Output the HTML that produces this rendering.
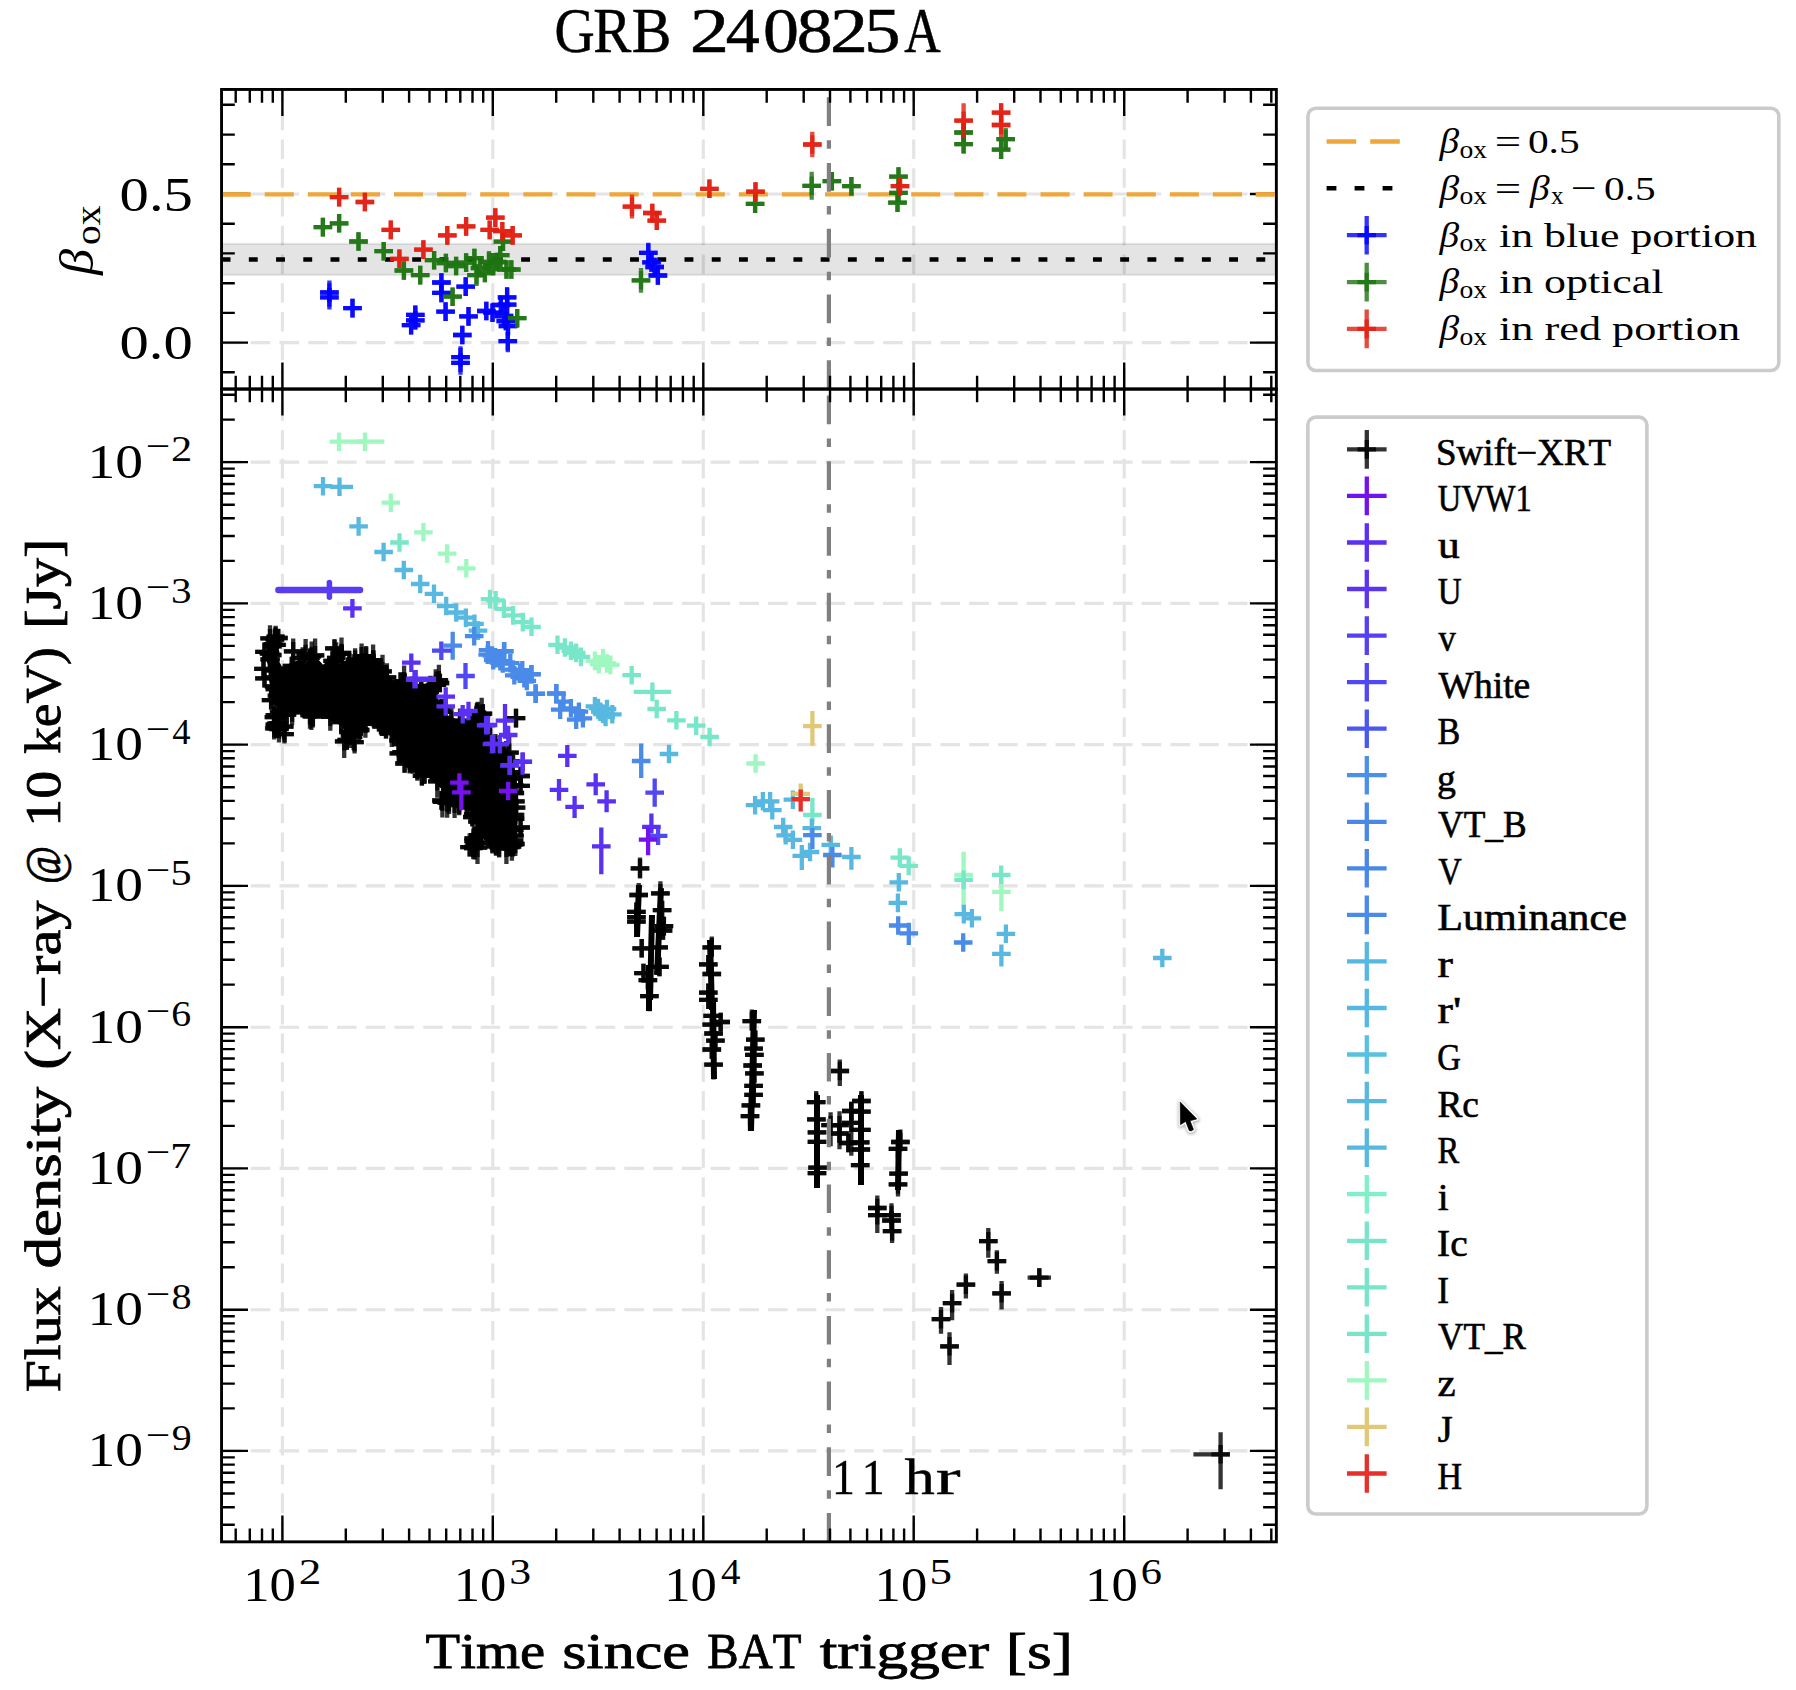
<!DOCTYPE html><html><head><meta charset="utf-8"><style>html,body{margin:0;padding:0;background:#fff;overflow:hidden}svg{display:block}</style></head><body><svg xmlns="http://www.w3.org/2000/svg" width="1796" height="1690" viewBox="0 0 1796 1690">
<rect width="100%" height="100%" fill="#ffffff"/>
<defs><clipPath id="ct"><rect x="221.55" y="89.45" width="1054.75" height="299.59000000000003"/></clipPath><clipPath id="cb"><rect x="221.55" y="389.04" width="1054.75" height="1152.76"/></clipPath></defs>
<path d="M282.4 389V89.5" stroke="#e4e4e4" stroke-width="3.1" stroke-dasharray="19.6 9.14" fill="none"/>
<path d="M282.4 1541.8V389" stroke="#e4e4e4" stroke-width="3.1" stroke-dasharray="19.6 9.14" fill="none"/>
<path d="M492.8 389V89.5" stroke="#e4e4e4" stroke-width="3.1" stroke-dasharray="19.6 9.14" fill="none"/>
<path d="M492.8 1541.8V389" stroke="#e4e4e4" stroke-width="3.1" stroke-dasharray="19.6 9.14" fill="none"/>
<path d="M703.3 389V89.5" stroke="#e4e4e4" stroke-width="3.1" stroke-dasharray="19.6 9.14" fill="none"/>
<path d="M703.3 1541.8V389" stroke="#e4e4e4" stroke-width="3.1" stroke-dasharray="19.6 9.14" fill="none"/>
<path d="M913.7 389V89.5" stroke="#e4e4e4" stroke-width="3.1" stroke-dasharray="19.6 9.14" fill="none"/>
<path d="M913.7 1541.8V389" stroke="#e4e4e4" stroke-width="3.1" stroke-dasharray="19.6 9.14" fill="none"/>
<path d="M1124.2 389V89.5" stroke="#e4e4e4" stroke-width="3.1" stroke-dasharray="19.6 9.14" fill="none"/>
<path d="M1124.2 1541.8V389" stroke="#e4e4e4" stroke-width="3.1" stroke-dasharray="19.6 9.14" fill="none"/>
<path d="M222 342.6H1276.3" stroke="#e4e4e4" stroke-width="3.1" stroke-dasharray="19.6 9.14" fill="none"/>
<path d="M222 194H1276.3" stroke="#e4e4e4" stroke-width="3.1" stroke-dasharray="19.6 9.14" fill="none"/>
<path d="M222 1450.9H1276.3" stroke="#e4e4e4" stroke-width="3.1" stroke-dasharray="19.6 9.14" fill="none"/>
<path d="M222 1309.7H1276.3" stroke="#e4e4e4" stroke-width="3.1" stroke-dasharray="19.6 9.14" fill="none"/>
<path d="M222 1168.4H1276.3" stroke="#e4e4e4" stroke-width="3.1" stroke-dasharray="19.6 9.14" fill="none"/>
<path d="M222 1027.2H1276.3" stroke="#e4e4e4" stroke-width="3.1" stroke-dasharray="19.6 9.14" fill="none"/>
<path d="M222 885.9H1276.3" stroke="#e4e4e4" stroke-width="3.1" stroke-dasharray="19.6 9.14" fill="none"/>
<path d="M222 744.6H1276.3" stroke="#e4e4e4" stroke-width="3.1" stroke-dasharray="19.6 9.14" fill="none"/>
<path d="M222 603.4H1276.3" stroke="#e4e4e4" stroke-width="3.1" stroke-dasharray="19.6 9.14" fill="none"/>
<path d="M222 462.1H1276.3" stroke="#e4e4e4" stroke-width="3.1" stroke-dasharray="19.6 9.14" fill="none"/>
<g clip-path="url(#ct)">
<rect x="216.55" y="243.85" width="1064.75" height="31.15" fill="#000" fill-opacity="0.105" stroke="#000" stroke-opacity="0.08" stroke-width="2.3"/>
<path d="M221.6 259.45H1276.3" stroke="#000" stroke-width="4.5" stroke-dasharray="8.9 18.33"/>
<path d="M221.6 194.4H1276.3" stroke="#f0a73a" stroke-width="4.4" stroke-dasharray="29.1 14"/>
<path d="M320.1 292.5H338.7M329.4 280.5V301.8" stroke="#0000ff" stroke-width="4.3" stroke-opacity="0.8" stroke-linecap="butt"/>
<path d="M320.1 292.5H338.7M329.4 283.2V301.8" stroke="#0000ff" stroke-width="4.3" stroke-opacity="0.8"/>
<path d="M320.1 297.4H338.7M329.4 288.1V309.4" stroke="#0000ff" stroke-width="4.3" stroke-opacity="0.8" stroke-linecap="butt"/>
<path d="M320.1 297.4H338.7M329.4 288.1V306.7" stroke="#0000ff" stroke-width="4.3" stroke-opacity="0.8"/>
<path d="M343.2 308.1H361.8M352.5 298.8V317.4" stroke="#0000ff" stroke-width="4.3" stroke-opacity="0.8" stroke-linecap="butt"/>
<path d="M343.2 308.1H361.8M352.5 298.8V317.4" stroke="#0000ff" stroke-width="4.3" stroke-opacity="0.8"/>
<path d="M406 314.8H424.6M415.3 305.5V324.1" stroke="#0000ff" stroke-width="4.3" stroke-opacity="0.8" stroke-linecap="butt"/>
<path d="M406 314.8H424.6M415.3 305.5V324.1" stroke="#0000ff" stroke-width="4.3" stroke-opacity="0.8"/>
<path d="M406 320.3H424.6M415.3 311V329.6" stroke="#0000ff" stroke-width="4.3" stroke-opacity="0.8" stroke-linecap="butt"/>
<path d="M406 320.3H424.6M415.3 311V329.6" stroke="#0000ff" stroke-width="4.3" stroke-opacity="0.8"/>
<path d="M401.8 325.2H420.4M411.1 315.9V334.5" stroke="#0000ff" stroke-width="4.3" stroke-opacity="0.8" stroke-linecap="butt"/>
<path d="M401.8 325.2H420.4M411.1 315.9V334.5" stroke="#0000ff" stroke-width="4.3" stroke-opacity="0.8"/>
<path d="M432.1 282.5H450.7M441.4 273.2V296.5" stroke="#0000ff" stroke-width="4.3" stroke-opacity="0.8" stroke-linecap="butt"/>
<path d="M432.1 282.5H450.7M441.4 273.2V291.8" stroke="#0000ff" stroke-width="4.3" stroke-opacity="0.8"/>
<path d="M432.1 292.9H450.7M441.4 283.6V302.2" stroke="#0000ff" stroke-width="4.3" stroke-opacity="0.8" stroke-linecap="butt"/>
<path d="M432.1 292.9H450.7M441.4 283.6V302.2" stroke="#0000ff" stroke-width="4.3" stroke-opacity="0.8"/>
<path d="M436.3 311.6H454.9M445.6 302.3V320.9" stroke="#0000ff" stroke-width="4.3" stroke-opacity="0.8" stroke-linecap="butt"/>
<path d="M436.3 311.6H454.9M445.6 302.3V320.9" stroke="#0000ff" stroke-width="4.3" stroke-opacity="0.8"/>
<path d="M456.4 286.6H475M465.7 277.3V295.9" stroke="#0000ff" stroke-width="4.3" stroke-opacity="0.8" stroke-linecap="butt"/>
<path d="M456.4 286.6H475M465.7 277.3V295.9" stroke="#0000ff" stroke-width="4.3" stroke-opacity="0.8"/>
<path d="M459.2 316.4H477.8M468.5 307.1V325.7" stroke="#0000ff" stroke-width="4.3" stroke-opacity="0.8" stroke-linecap="butt"/>
<path d="M459.2 316.4H477.8M468.5 307.1V325.7" stroke="#0000ff" stroke-width="4.3" stroke-opacity="0.8"/>
<path d="M453 335H471.6M462.3 325.7V344.3" stroke="#0000ff" stroke-width="4.3" stroke-opacity="0.8" stroke-linecap="butt"/>
<path d="M453 335H471.6M462.3 325.7V344.3" stroke="#0000ff" stroke-width="4.3" stroke-opacity="0.8"/>
<path d="M451.2 357.2H469.8M460.5 346.2V366.5" stroke="#0000ff" stroke-width="4.3" stroke-opacity="0.8" stroke-linecap="butt"/>
<path d="M451.2 357.2H469.8M460.5 347.9V366.5" stroke="#0000ff" stroke-width="4.3" stroke-opacity="0.8"/>
<path d="M451.2 362.8H469.8M460.5 353.5V374.8" stroke="#0000ff" stroke-width="4.3" stroke-opacity="0.8" stroke-linecap="butt"/>
<path d="M451.2 362.8H469.8M460.5 353.5V372.1" stroke="#0000ff" stroke-width="4.3" stroke-opacity="0.8"/>
<path d="M477 311H495.6M486.3 301.7V320.3" stroke="#0000ff" stroke-width="4.3" stroke-opacity="0.8" stroke-linecap="butt"/>
<path d="M477 311H495.6M486.3 301.7V320.3" stroke="#0000ff" stroke-width="4.3" stroke-opacity="0.8"/>
<path d="M483.2 312.7H501.8M492.5 303.4V322" stroke="#0000ff" stroke-width="4.3" stroke-opacity="0.8" stroke-linecap="butt"/>
<path d="M483.2 312.7H501.8M492.5 303.4V322" stroke="#0000ff" stroke-width="4.3" stroke-opacity="0.8"/>
<path d="M491.6 305H510.2M500.9 295.7V314.3" stroke="#0000ff" stroke-width="4.3" stroke-opacity="0.8" stroke-linecap="butt"/>
<path d="M491.6 305H510.2M500.9 295.7V314.3" stroke="#0000ff" stroke-width="4.3" stroke-opacity="0.8"/>
<path d="M497.8 297.4H516.4M507.1 286.9V306.7" stroke="#0000ff" stroke-width="4.3" stroke-opacity="0.8" stroke-linecap="butt"/>
<path d="M497.8 297.4H516.4M507.1 288.1V306.7" stroke="#0000ff" stroke-width="4.3" stroke-opacity="0.8"/>
<path d="M497.8 304.7H516.4M507.1 295.4V314" stroke="#0000ff" stroke-width="4.3" stroke-opacity="0.8" stroke-linecap="butt"/>
<path d="M497.8 304.7H516.4M507.1 295.4V314" stroke="#0000ff" stroke-width="4.3" stroke-opacity="0.8"/>
<path d="M496.5 321H515.1M505.8 311.7V330.3" stroke="#0000ff" stroke-width="4.3" stroke-opacity="0.8" stroke-linecap="butt"/>
<path d="M496.5 321H515.1M505.8 311.7V330.3" stroke="#0000ff" stroke-width="4.3" stroke-opacity="0.8"/>
<path d="M498.5 341.2H517.1M507.8 331.9V352.2" stroke="#0000ff" stroke-width="4.3" stroke-opacity="0.8" stroke-linecap="butt"/>
<path d="M498.5 341.2H517.1M507.8 331.9V350.5" stroke="#0000ff" stroke-width="4.3" stroke-opacity="0.8"/>
<path d="M494.7 316H513.3M504 306.7V325.3" stroke="#0000ff" stroke-width="4.3" stroke-opacity="0.8" stroke-linecap="butt"/>
<path d="M494.7 316H513.3M504 306.7V325.3" stroke="#0000ff" stroke-width="4.3" stroke-opacity="0.8"/>
<path d="M498.7 326H517.3M508 316.7V335.3" stroke="#0000ff" stroke-width="4.3" stroke-opacity="0.8" stroke-linecap="butt"/>
<path d="M498.7 326H517.3M508 316.7V335.3" stroke="#0000ff" stroke-width="4.3" stroke-opacity="0.8"/>
<path d="M639 252.8H657.6M648.3 242.8V265.8" stroke="#0000ff" stroke-width="4.3" stroke-opacity="0.8" stroke-linecap="butt"/>
<path d="M639 252.8H657.6M648.3 243.5V262.1" stroke="#0000ff" stroke-width="4.3" stroke-opacity="0.8"/>
<path d="M642.2 262.4H660.8M651.5 253.1V271.7" stroke="#0000ff" stroke-width="4.3" stroke-opacity="0.8" stroke-linecap="butt"/>
<path d="M642.2 262.4H660.8M651.5 253.1V271.7" stroke="#0000ff" stroke-width="4.3" stroke-opacity="0.8"/>
<path d="M645.4 267H664M654.7 257.7V276.3" stroke="#0000ff" stroke-width="4.3" stroke-opacity="0.8" stroke-linecap="butt"/>
<path d="M645.4 267H664M654.7 257.7V276.3" stroke="#0000ff" stroke-width="4.3" stroke-opacity="0.8"/>
<path d="M648.6 275.5H667.2M657.9 266.2V284.8" stroke="#0000ff" stroke-width="4.3" stroke-opacity="0.8" stroke-linecap="butt"/>
<path d="M648.6 275.5H667.2M657.9 266.2V284.8" stroke="#0000ff" stroke-width="4.3" stroke-opacity="0.8"/>
<path d="M313.6 227.1H332.2M322.9 217.8V236.4" stroke="#1d7310" stroke-width="4.3" stroke-opacity="0.8" stroke-linecap="butt"/>
<path d="M313.6 227.1H332.2M322.9 217.8V236.4" stroke="#1d7310" stroke-width="4.3" stroke-opacity="0.8"/>
<path d="M329.8 223.3H348.4M339.1 214V232.6" stroke="#1d7310" stroke-width="4.3" stroke-opacity="0.8" stroke-linecap="butt"/>
<path d="M329.8 223.3H348.4M339.1 214V232.6" stroke="#1d7310" stroke-width="4.3" stroke-opacity="0.8"/>
<path d="M349.2 241.5H367.8M358.5 232.2V250.8" stroke="#1d7310" stroke-width="4.3" stroke-opacity="0.8" stroke-linecap="butt"/>
<path d="M349.2 241.5H367.8M358.5 232.2V250.8" stroke="#1d7310" stroke-width="4.3" stroke-opacity="0.8"/>
<path d="M374.4 251.2H393M383.7 241.9V260.5" stroke="#1d7310" stroke-width="4.3" stroke-opacity="0.8" stroke-linecap="butt"/>
<path d="M374.4 251.2H393M383.7 241.9V260.5" stroke="#1d7310" stroke-width="4.3" stroke-opacity="0.8"/>
<path d="M394.6 270.5H413.2M403.9 261.2V279.8" stroke="#1d7310" stroke-width="4.3" stroke-opacity="0.8" stroke-linecap="butt"/>
<path d="M394.6 270.5H413.2M403.9 261.2V279.8" stroke="#1d7310" stroke-width="4.3" stroke-opacity="0.8"/>
<path d="M410.9 275.1H429.5M420.2 265.8V284.4" stroke="#1d7310" stroke-width="4.3" stroke-opacity="0.8" stroke-linecap="butt"/>
<path d="M410.9 275.1H429.5M420.2 265.8V284.4" stroke="#1d7310" stroke-width="4.3" stroke-opacity="0.8"/>
<path d="M424.8 260.2H443.4M434.1 250.9V269.5" stroke="#1d7310" stroke-width="4.3" stroke-opacity="0.8" stroke-linecap="butt"/>
<path d="M424.8 260.2H443.4M434.1 250.9V269.5" stroke="#1d7310" stroke-width="4.3" stroke-opacity="0.8"/>
<path d="M436.6 263H455.2M445.9 253.7V272.3" stroke="#1d7310" stroke-width="4.3" stroke-opacity="0.8" stroke-linecap="butt"/>
<path d="M436.6 263H455.2M445.9 253.7V272.3" stroke="#1d7310" stroke-width="4.3" stroke-opacity="0.8"/>
<path d="M446.8 266H465.4M456.1 256.7V275.3" stroke="#1d7310" stroke-width="4.3" stroke-opacity="0.8" stroke-linecap="butt"/>
<path d="M446.8 266H465.4M456.1 256.7V275.3" stroke="#1d7310" stroke-width="4.3" stroke-opacity="0.8"/>
<path d="M456.8 262.6H475.4M466.1 253.3V271.9" stroke="#1d7310" stroke-width="4.3" stroke-opacity="0.8" stroke-linecap="butt"/>
<path d="M456.8 262.6H475.4M466.1 253.3V271.9" stroke="#1d7310" stroke-width="4.3" stroke-opacity="0.8"/>
<path d="M465.1 258.1H483.7M474.4 248.8V267.4" stroke="#1d7310" stroke-width="4.3" stroke-opacity="0.8" stroke-linecap="butt"/>
<path d="M465.1 258.1H483.7M474.4 248.8V267.4" stroke="#1d7310" stroke-width="4.3" stroke-opacity="0.8"/>
<path d="M467.2 275.1H485.8M476.5 264.1V286.1" stroke="#1d7310" stroke-width="4.3" stroke-opacity="0.8" stroke-linecap="butt"/>
<path d="M467.2 275.1H485.8M476.5 265.8V284.4" stroke="#1d7310" stroke-width="4.3" stroke-opacity="0.8"/>
<path d="M479.7 261.9H498.3M489 250.9V272.9" stroke="#1d7310" stroke-width="4.3" stroke-opacity="0.8" stroke-linecap="butt"/>
<path d="M479.7 261.9H498.3M489 252.6V271.2" stroke="#1d7310" stroke-width="4.3" stroke-opacity="0.8"/>
<path d="M483.9 266H502.5M493.2 256.7V275.3" stroke="#1d7310" stroke-width="4.3" stroke-opacity="0.8" stroke-linecap="butt"/>
<path d="M483.9 266H502.5M493.2 256.7V275.3" stroke="#1d7310" stroke-width="4.3" stroke-opacity="0.8"/>
<path d="M490.9 255.2H509.5M500.2 245.9V264.5" stroke="#1d7310" stroke-width="4.3" stroke-opacity="0.8" stroke-linecap="butt"/>
<path d="M490.9 255.2H509.5M500.2 245.9V264.5" stroke="#1d7310" stroke-width="4.3" stroke-opacity="0.8"/>
<path d="M493.7 241.7H512.3M503 232.4V251" stroke="#1d7310" stroke-width="4.3" stroke-opacity="0.8" stroke-linecap="butt"/>
<path d="M493.7 241.7H512.3M503 232.4V251" stroke="#1d7310" stroke-width="4.3" stroke-opacity="0.8"/>
<path d="M497.2 269.5H515.8M506.5 260.2V278.8" stroke="#1d7310" stroke-width="4.3" stroke-opacity="0.8" stroke-linecap="butt"/>
<path d="M497.2 269.5H515.8M506.5 260.2V278.8" stroke="#1d7310" stroke-width="4.3" stroke-opacity="0.8"/>
<path d="M502 269.5H520.6M511.3 260.2V278.8" stroke="#1d7310" stroke-width="4.3" stroke-opacity="0.8" stroke-linecap="butt"/>
<path d="M502 269.5H520.6M511.3 260.2V278.8" stroke="#1d7310" stroke-width="4.3" stroke-opacity="0.8"/>
<path d="M443.3 296.7H461.9M452.6 287.4V306" stroke="#1d7310" stroke-width="4.3" stroke-opacity="0.8" stroke-linecap="butt"/>
<path d="M443.3 296.7H461.9M452.6 287.4V306" stroke="#1d7310" stroke-width="4.3" stroke-opacity="0.8"/>
<path d="M507.9 318.2H526.5M517.2 308.9V327.5" stroke="#1d7310" stroke-width="4.3" stroke-opacity="0.8" stroke-linecap="butt"/>
<path d="M507.9 318.2H526.5M517.2 308.9V327.5" stroke="#1d7310" stroke-width="4.3" stroke-opacity="0.8"/>
<path d="M475.6 273H494.2M484.9 263.7V282.3" stroke="#1d7310" stroke-width="4.3" stroke-opacity="0.8" stroke-linecap="butt"/>
<path d="M475.6 273H494.2M484.9 263.7V282.3" stroke="#1d7310" stroke-width="4.3" stroke-opacity="0.8"/>
<path d="M470.7 268H489.3M480 258.7V277.3" stroke="#1d7310" stroke-width="4.3" stroke-opacity="0.8" stroke-linecap="butt"/>
<path d="M470.7 268H489.3M480 258.7V277.3" stroke="#1d7310" stroke-width="4.3" stroke-opacity="0.8"/>
<path d="M487.7 262H506.3M497 252.7V271.3" stroke="#1d7310" stroke-width="4.3" stroke-opacity="0.8" stroke-linecap="butt"/>
<path d="M487.7 262H506.3M497 252.7V271.3" stroke="#1d7310" stroke-width="4.3" stroke-opacity="0.8"/>
<path d="M631.7 280.3H650.3M641 267.9V292.7" stroke="#1d7310" stroke-width="4.3" stroke-opacity="0.8" stroke-linecap="butt"/>
<path d="M631.7 280.3H650.3M641 271V289.6" stroke="#1d7310" stroke-width="4.3" stroke-opacity="0.8"/>
<path d="M745.8 203.8H764.4M755.1 194.5V213.1" stroke="#1d7310" stroke-width="4.3" stroke-opacity="0.8" stroke-linecap="butt"/>
<path d="M745.8 203.8H764.4M755.1 194.5V213.1" stroke="#1d7310" stroke-width="4.3" stroke-opacity="0.8"/>
<path d="M802.4 185.8H821M811.7 171.8V199.8" stroke="#1d7310" stroke-width="4.3" stroke-opacity="0.8" stroke-linecap="butt"/>
<path d="M802.4 185.8H821M811.7 176.5V195.1" stroke="#1d7310" stroke-width="4.3" stroke-opacity="0.8"/>
<path d="M822.6 181.2H841.2M831.9 171.9V190.5" stroke="#1d7310" stroke-width="4.3" stroke-opacity="0.8" stroke-linecap="butt"/>
<path d="M822.6 181.2H841.2M831.9 171.9V190.5" stroke="#1d7310" stroke-width="4.3" stroke-opacity="0.8"/>
<path d="M842.1 186.2H860.7M851.4 176.9V195.5" stroke="#1d7310" stroke-width="4.3" stroke-opacity="0.8" stroke-linecap="butt"/>
<path d="M842.1 186.2H860.7M851.4 176.9V195.5" stroke="#1d7310" stroke-width="4.3" stroke-opacity="0.8"/>
<path d="M889.2 176.6H907.8M898.5 167.3V185.9" stroke="#1d7310" stroke-width="4.3" stroke-opacity="0.8" stroke-linecap="butt"/>
<path d="M889.2 176.6H907.8M898.5 167.3V185.9" stroke="#1d7310" stroke-width="4.3" stroke-opacity="0.8"/>
<path d="M889.2 192.8H907.8M898.5 183.5V202.1" stroke="#1d7310" stroke-width="4.3" stroke-opacity="0.8" stroke-linecap="butt"/>
<path d="M889.2 192.8H907.8M898.5 183.5V202.1" stroke="#1d7310" stroke-width="4.3" stroke-opacity="0.8"/>
<path d="M888.2 202.6H906.8M897.5 193.3V211.9" stroke="#1d7310" stroke-width="4.3" stroke-opacity="0.8" stroke-linecap="butt"/>
<path d="M888.2 202.6H906.8M897.5 193.3V211.9" stroke="#1d7310" stroke-width="4.3" stroke-opacity="0.8"/>
<path d="M954.3 132.5H972.9M963.6 123.2V141.8" stroke="#1d7310" stroke-width="4.3" stroke-opacity="0.8" stroke-linecap="butt"/>
<path d="M954.3 132.5H972.9M963.6 123.2V141.8" stroke="#1d7310" stroke-width="4.3" stroke-opacity="0.8"/>
<path d="M954.3 144.1H972.9M963.6 134.8V153.4" stroke="#1d7310" stroke-width="4.3" stroke-opacity="0.8" stroke-linecap="butt"/>
<path d="M954.3 144.1H972.9M963.6 134.8V153.4" stroke="#1d7310" stroke-width="4.3" stroke-opacity="0.8"/>
<path d="M996.4 139.1H1015M1005.7 128.1V150.1" stroke="#1d7310" stroke-width="4.3" stroke-opacity="0.8" stroke-linecap="butt"/>
<path d="M996.4 139.1H1015M1005.7 129.8V148.4" stroke="#1d7310" stroke-width="4.3" stroke-opacity="0.8"/>
<path d="M991.8 149.7H1010.4M1001.1 140.4V159" stroke="#1d7310" stroke-width="4.3" stroke-opacity="0.8" stroke-linecap="butt"/>
<path d="M991.8 149.7H1010.4M1001.1 140.4V159" stroke="#1d7310" stroke-width="4.3" stroke-opacity="0.8"/>
<path d="M329.8 197.1H348.4M339.1 187.8V206.4" stroke="#e21d10" stroke-width="4.3" stroke-opacity="0.8" stroke-linecap="butt"/>
<path d="M329.8 197.1H348.4M339.1 187.8V206.4" stroke="#e21d10" stroke-width="4.3" stroke-opacity="0.8"/>
<path d="M355.6 202H374.2M364.9 192.7V211.3" stroke="#e21d10" stroke-width="4.3" stroke-opacity="0.8" stroke-linecap="butt"/>
<path d="M355.6 202H374.2M364.9 192.7V211.3" stroke="#e21d10" stroke-width="4.3" stroke-opacity="0.8"/>
<path d="M381.5 229.9H400.1M390.8 220.6V239.2" stroke="#e21d10" stroke-width="4.3" stroke-opacity="0.8" stroke-linecap="butt"/>
<path d="M381.5 229.9H400.1M390.8 220.6V239.2" stroke="#e21d10" stroke-width="4.3" stroke-opacity="0.8"/>
<path d="M414.1 249.6H432.7M423.4 240.3V258.9" stroke="#e21d10" stroke-width="4.3" stroke-opacity="0.8" stroke-linecap="butt"/>
<path d="M414.1 249.6H432.7M423.4 240.3V258.9" stroke="#e21d10" stroke-width="4.3" stroke-opacity="0.8"/>
<path d="M390.1 258.8H408.7M399.4 249.5V268.1" stroke="#e21d10" stroke-width="4.3" stroke-opacity="0.8" stroke-linecap="butt"/>
<path d="M390.1 258.8H408.7M399.4 249.5V268.1" stroke="#e21d10" stroke-width="4.3" stroke-opacity="0.8"/>
<path d="M438 235.4H456.6M447.3 226.1V244.7" stroke="#e21d10" stroke-width="4.3" stroke-opacity="0.8" stroke-linecap="butt"/>
<path d="M438 235.4H456.6M447.3 226.1V244.7" stroke="#e21d10" stroke-width="4.3" stroke-opacity="0.8"/>
<path d="M456.8 226.4H475.4M466.1 217.1V235.7" stroke="#e21d10" stroke-width="4.3" stroke-opacity="0.8" stroke-linecap="butt"/>
<path d="M456.8 226.4H475.4M466.1 217.1V235.7" stroke="#e21d10" stroke-width="4.3" stroke-opacity="0.8"/>
<path d="M486 217.6H504.6M495.3 208.3V226.9" stroke="#e21d10" stroke-width="4.3" stroke-opacity="0.8" stroke-linecap="butt"/>
<path d="M486 217.6H504.6M495.3 208.3V226.9" stroke="#e21d10" stroke-width="4.3" stroke-opacity="0.8"/>
<path d="M480.4 229.9H499M489.7 220.6V239.2" stroke="#e21d10" stroke-width="4.3" stroke-opacity="0.8" stroke-linecap="butt"/>
<path d="M480.4 229.9H499M489.7 220.6V239.2" stroke="#e21d10" stroke-width="4.3" stroke-opacity="0.8"/>
<path d="M493 231.2H511.6M502.3 221.9V240.5" stroke="#e21d10" stroke-width="4.3" stroke-opacity="0.8" stroke-linecap="butt"/>
<path d="M493 231.2H511.6M502.3 221.9V240.5" stroke="#e21d10" stroke-width="4.3" stroke-opacity="0.8"/>
<path d="M503.4 235.4H522M512.7 226.1V244.7" stroke="#e21d10" stroke-width="4.3" stroke-opacity="0.8" stroke-linecap="butt"/>
<path d="M503.4 235.4H522M512.7 226.1V244.7" stroke="#e21d10" stroke-width="4.3" stroke-opacity="0.8"/>
<path d="M622.7 206.6H641.3M632 194.6V218.6" stroke="#e21d10" stroke-width="4.3" stroke-opacity="0.8" stroke-linecap="butt"/>
<path d="M622.7 206.6H641.3M632 197.3V215.9" stroke="#e21d10" stroke-width="4.3" stroke-opacity="0.8"/>
<path d="M643 213H661.6M652.3 203.7V222.3" stroke="#e21d10" stroke-width="4.3" stroke-opacity="0.8" stroke-linecap="butt"/>
<path d="M643 213H661.6M652.3 203.7V222.3" stroke="#e21d10" stroke-width="4.3" stroke-opacity="0.8"/>
<path d="M647.5 220.6H666.1M656.8 211.3V229.9" stroke="#e21d10" stroke-width="4.3" stroke-opacity="0.8" stroke-linecap="butt"/>
<path d="M647.5 220.6H666.1M656.8 211.3V229.9" stroke="#e21d10" stroke-width="4.3" stroke-opacity="0.8"/>
<path d="M700.1 188.8H718.7M709.4 179.5V198.1" stroke="#e21d10" stroke-width="4.3" stroke-opacity="0.8" stroke-linecap="butt"/>
<path d="M700.1 188.8H718.7M709.4 179.5V198.1" stroke="#e21d10" stroke-width="4.3" stroke-opacity="0.8"/>
<path d="M746.2 191.6H764.8M755.5 182.3V200.9" stroke="#e21d10" stroke-width="4.3" stroke-opacity="0.8" stroke-linecap="butt"/>
<path d="M746.2 191.6H764.8M755.5 182.3V200.9" stroke="#e21d10" stroke-width="4.3" stroke-opacity="0.8"/>
<path d="M803 144.5H821.6M812.3 131.7V157.3" stroke="#e21d10" stroke-width="4.3" stroke-opacity="0.8" stroke-linecap="butt"/>
<path d="M803 144.5H821.6M812.3 135.2V153.8" stroke="#e21d10" stroke-width="4.3" stroke-opacity="0.8"/>
<path d="M890.7 186.2H909.3M900 176.9V195.5" stroke="#e21d10" stroke-width="4.3" stroke-opacity="0.8" stroke-linecap="butt"/>
<path d="M890.7 186.2H909.3M900 176.9V195.5" stroke="#e21d10" stroke-width="4.3" stroke-opacity="0.8"/>
<path d="M954.3 120.7H972.9M963.6 103.2V138.2" stroke="#e21d10" stroke-width="4.3" stroke-opacity="0.8" stroke-linecap="butt"/>
<path d="M954.3 120.7H972.9M963.6 111.4V130" stroke="#e21d10" stroke-width="4.3" stroke-opacity="0.8"/>
<path d="M991.8 112.6H1010.4M1001.1 103.3V121.9" stroke="#e21d10" stroke-width="4.3" stroke-opacity="0.8" stroke-linecap="butt"/>
<path d="M991.8 112.6H1010.4M1001.1 103.3V121.9" stroke="#e21d10" stroke-width="4.3" stroke-opacity="0.8"/>
<path d="M991.8 125H1010.4M1001.1 113V137" stroke="#e21d10" stroke-width="4.3" stroke-opacity="0.8" stroke-linecap="butt"/>
<path d="M991.8 125H1010.4M1001.1 115.7V134.3" stroke="#e21d10" stroke-width="4.3" stroke-opacity="0.8"/>
<path d="M828.9 389V89.5" stroke="#808080" stroke-width="4.2" stroke-dasharray="28.7 14.27 8.5 14.27"/>
</g>
<g clip-path="url(#cb)">
<polygon points="266.3,652.2 271.1,642.3 274.2,638.3 276.9,640.8 272.5,649.4 281.9,666.5 297.3,660.4 299.6,655.2 304.8,665.1 311.9,655.1 315.1,655.7 323.0,664.7 331.8,657.5 341.6,650.0 337.7,650.0 339.6,664.0 353.0,657.3 361.7,653.4 366.7,652.9 371.1,657.3 376.1,658.9 383.8,668.1 394.4,682.4 402.2,679.0 418.5,685.2 436.9,681.6 440.1,684.4 434.1,695.0 449.1,716.6 467.0,723.1 476.6,711.1 479.7,711.1 484.5,727.6 495.2,743.7 503.7,753.4 512.5,755.5 514.7,773.9 517.3,784.1 518.8,806.1 517.2,826.0 517.2,843.8 513.2,849.4 503.9,851.1 495.2,849.7 480.3,836.7 473.3,847.6 471.4,844.7 477.7,828.5 468.8,810.7 444.3,803.9 439.7,799.3 441.1,788.5 428.1,777.5 418.4,776.3 412.1,768.2 404.9,759.6 402.4,750.6 392.7,737.3 386.1,733.0 371.1,722.9 356.3,735.3 349.8,740.6 348.2,738.5 341.9,725.9 322.7,716.3 311.8,720.0 300.1,712.2 282.0,720.0 275.7,732.0 281.3,732.0 280.6,720.3 275.8,718.7 277.2,707.2 269.4,681.9 267.7,665.4" fill="#000"/>
<path d="M329.7 441.7H365M339 432.4V451" stroke="#a0f8c0" stroke-width="4.3" stroke-linecap="butt"/>
<path d="M355.6 441.7H384.4M364.9 432.4V451" stroke="#a0f8c0" stroke-width="4.3" stroke-linecap="butt"/>
<path d="M381.5 502.7H400.1M390.8 493.4V512" stroke="#a0f8c0" stroke-width="4.3" stroke-linecap="butt"/>
<path d="M414.1 532.3H432.7M423.4 523V541.6" stroke="#a0f8c0" stroke-width="4.3" stroke-linecap="butt"/>
<path d="M437.8 553.6H456.4M447.1 544.3V562.9" stroke="#a0f8c0" stroke-width="4.3" stroke-linecap="butt"/>
<path d="M457 568.3H475.6M466.3 559V577.6" stroke="#a0f8c0" stroke-width="4.3" stroke-linecap="butt"/>
<path d="M585.6 660.9H604.2M594.9 651.6V670.2" stroke="#a0f8c0" stroke-width="4.3" stroke-linecap="butt"/>
<path d="M589.6 664.2H608.2M598.9 654.9V673.5" stroke="#a0f8c0" stroke-width="4.3" stroke-linecap="butt"/>
<path d="M597.7 663.5H616.3M607 654.2V672.8" stroke="#a0f8c0" stroke-width="4.3" stroke-linecap="butt"/>
<path d="M601 664.9H619.6M610.3 655.6V674.2" stroke="#a0f8c0" stroke-width="4.3" stroke-linecap="butt"/>
<path d="M593.7 658H612.3M603 648.7V667.3" stroke="#a0f8c0" stroke-width="4.3" stroke-linecap="butt"/>
<path d="M746.3 763.5H764.9M755.6 754.2V772.8" stroke="#a0f8c0" stroke-width="4.3" stroke-linecap="butt"/>
<path d="M954.3 874.8H972.9M963.6 851.8V906.8" stroke="#a0f8c0" stroke-width="4.3" stroke-linecap="butt"/>
<path d="M992.1 891.8H1010.7M1001.4 882.3V911.3" stroke="#a0f8c0" stroke-width="4.3" stroke-linecap="butt"/>
<path d="M390.2 542.5H408.8M399.5 533.2V551.8" stroke="#78e6c8" stroke-width="4.3" stroke-linecap="butt"/>
<path d="M480.7 599.1H499.3M490 589.8V608.4" stroke="#78e6c8" stroke-width="4.3" stroke-linecap="butt"/>
<path d="M486.3 600.4H504.9M495.6 591.1V609.7" stroke="#78e6c8" stroke-width="4.3" stroke-linecap="butt"/>
<path d="M494.6 608.8H513.2M503.9 599.5V618.1" stroke="#78e6c8" stroke-width="4.3" stroke-linecap="butt"/>
<path d="M503.8 615.4H522.4M513.1 606.1V624.7" stroke="#78e6c8" stroke-width="4.3" stroke-linecap="butt"/>
<path d="M513.5 622.1H532.1M522.8 612.8V631.4" stroke="#78e6c8" stroke-width="4.3" stroke-linecap="butt"/>
<path d="M522.2 626.8H540.8M531.5 617.5V636.1" stroke="#78e6c8" stroke-width="4.3" stroke-linecap="butt"/>
<path d="M548.2 644.8H566.8M557.5 635.5V654.1" stroke="#78e6c8" stroke-width="4.3" stroke-linecap="butt"/>
<path d="M555.6 647.5H574.2M564.9 638.2V656.8" stroke="#78e6c8" stroke-width="4.3" stroke-linecap="butt"/>
<path d="M561.6 650.8H580.2M570.9 641.5V660.1" stroke="#78e6c8" stroke-width="4.3" stroke-linecap="butt"/>
<path d="M566.9 652.9H585.5M576.2 643.6V662.2" stroke="#78e6c8" stroke-width="4.3" stroke-linecap="butt"/>
<path d="M571.6 656.9H590.2M580.9 647.6V666.2" stroke="#78e6c8" stroke-width="4.3" stroke-linecap="butt"/>
<path d="M622.4 675.2H641M631.7 665.9V684.5" stroke="#78e6c8" stroke-width="4.3" stroke-linecap="butt"/>
<path d="M633.7 691.9H671.1M652.4 682.6V701.2" stroke="#78e6c8" stroke-width="4.3" stroke-linecap="butt"/>
<path d="M647.4 709H666M656.7 699.7V718.3" stroke="#78e6c8" stroke-width="4.3" stroke-linecap="butt"/>
<path d="M667.1 720.3H685.7M676.4 711V729.6" stroke="#78e6c8" stroke-width="4.3" stroke-linecap="butt"/>
<path d="M686.9 725.7H705.5M696.2 716.4V735" stroke="#78e6c8" stroke-width="4.3" stroke-linecap="butt"/>
<path d="M700.3 737H718.9M709.6 727.7V746.3" stroke="#78e6c8" stroke-width="4.3" stroke-linecap="butt"/>
<path d="M803.1 814.9H821.7M812.4 797.9V824.2" stroke="#78e6c8" stroke-width="4.3" stroke-linecap="butt"/>
<path d="M890.5 857.6H909.1M899.8 848.3V866.9" stroke="#78e6c8" stroke-width="4.3" stroke-linecap="butt"/>
<path d="M899.4 865.9H918M908.7 856.6V875.2" stroke="#78e6c8" stroke-width="4.3" stroke-linecap="butt"/>
<path d="M991.9 874.8H1010.5M1001.2 865.5V884.1" stroke="#78e6c8" stroke-width="4.3" stroke-linecap="butt"/>
<path d="M954.3 879.9H972.9M963.6 870.6V889.2" stroke="#78e6c8" stroke-width="4.3" stroke-linecap="butt"/>
<path d="M313.7 486.2H332.3M323 476.9V495.5" stroke="#58b8e0" stroke-width="4.3" stroke-linecap="butt"/>
<path d="M330.2 486.8H353.1M339.5 477.5V496.1" stroke="#58b8e0" stroke-width="4.3" stroke-linecap="butt"/>
<path d="M349.3 526.4H367.9M358.6 517.1V535.7" stroke="#58b8e0" stroke-width="4.3" stroke-linecap="butt"/>
<path d="M374.3 552H392.9M383.6 542.7V561.3" stroke="#58b8e0" stroke-width="4.3" stroke-linecap="butt"/>
<path d="M394.5 570H413.1M403.8 560.7V579.3" stroke="#58b8e0" stroke-width="4.3" stroke-linecap="butt"/>
<path d="M410.9 584H429.5M420.2 574.7V593.3" stroke="#58b8e0" stroke-width="4.3" stroke-linecap="butt"/>
<path d="M424.7 593.8H443.3M434 584.5V603.1" stroke="#58b8e0" stroke-width="4.3" stroke-linecap="butt"/>
<path d="M436.9 606H455.5M446.2 596.7V615.3" stroke="#58b8e0" stroke-width="4.3" stroke-linecap="butt"/>
<path d="M446.9 612.5H465.5M456.2 603.2V621.8" stroke="#58b8e0" stroke-width="4.3" stroke-linecap="butt"/>
<path d="M456.6 617.7H475.2M465.9 608.4V627" stroke="#58b8e0" stroke-width="4.3" stroke-linecap="butt"/>
<path d="M465.2 623.8H483.8M474.5 614.5V633.1" stroke="#58b8e0" stroke-width="4.3" stroke-linecap="butt"/>
<path d="M468.7 630.6H487.3M478 621.3V639.9" stroke="#58b8e0" stroke-width="4.3" stroke-linecap="butt"/>
<path d="M585.6 706.3H604.2M594.9 697V715.6" stroke="#58b8e0" stroke-width="4.3" stroke-linecap="butt"/>
<path d="M591 711.7H609.6M600.3 702.4V721" stroke="#58b8e0" stroke-width="4.3" stroke-linecap="butt"/>
<path d="M597.7 709H616.3M607 699.7V718.3" stroke="#58b8e0" stroke-width="4.3" stroke-linecap="butt"/>
<path d="M596.3 717H614.9M605.6 707.7V726.3" stroke="#58b8e0" stroke-width="4.3" stroke-linecap="butt"/>
<path d="M603 714.3H621.6M612.3 705V723.6" stroke="#58b8e0" stroke-width="4.3" stroke-linecap="butt"/>
<path d="M588.7 708H607.3M598 698.7V717.3" stroke="#58b8e0" stroke-width="4.3" stroke-linecap="butt"/>
<path d="M593.7 714H612.3M603 704.7V723.3" stroke="#58b8e0" stroke-width="4.3" stroke-linecap="butt"/>
<path d="M659.7 754H678.3M669 744.7V763.3" stroke="#58b8e0" stroke-width="4.3" stroke-linecap="butt"/>
<path d="M745.8 805.2H764.4M755.1 795.9V814.5" stroke="#58b8e0" stroke-width="4.3" stroke-linecap="butt"/>
<path d="M753.6 801.3H772.2M762.9 792V810.6" stroke="#58b8e0" stroke-width="4.3" stroke-linecap="butt"/>
<path d="M760.8 801.3H779.4M770.1 792V810.6" stroke="#58b8e0" stroke-width="4.3" stroke-linecap="butt"/>
<path d="M763 810.2H781.6M772.3 800.9V819.5" stroke="#58b8e0" stroke-width="4.3" stroke-linecap="butt"/>
<path d="M783.6 799.7H802.2M792.9 790.4V809" stroke="#58b8e0" stroke-width="4.3" stroke-linecap="butt"/>
<path d="M773.9 827H792.5M783.2 817.7V836.3" stroke="#58b8e0" stroke-width="4.3" stroke-linecap="butt"/>
<path d="M776.4 835.3H795M785.7 826V844.6" stroke="#58b8e0" stroke-width="4.3" stroke-linecap="butt"/>
<path d="M783.6 839.8H802.2M792.9 830.5V849.1" stroke="#58b8e0" stroke-width="4.3" stroke-linecap="butt"/>
<path d="M792.5 855.9H811.1M801.8 844.9V869.9" stroke="#58b8e0" stroke-width="4.3" stroke-linecap="butt"/>
<path d="M800.7 852H819.3M810 842.7V861.3" stroke="#58b8e0" stroke-width="4.3" stroke-linecap="butt"/>
<path d="M802.5 828.1H821.1M811.8 818.8V837.4" stroke="#58b8e0" stroke-width="4.3" stroke-linecap="butt"/>
<path d="M821.5 844.8H840.1M830.8 835.5V854.1" stroke="#58b8e0" stroke-width="4.3" stroke-linecap="butt"/>
<path d="M842.1 857H860.7M851.4 847V869.7" stroke="#58b8e0" stroke-width="4.3" stroke-linecap="butt"/>
<path d="M889.5 882.3H908.1M898.8 873V891.6" stroke="#58b8e0" stroke-width="4.3" stroke-linecap="butt"/>
<path d="M888.6 902.9H907.2M897.9 893.6V912.2" stroke="#58b8e0" stroke-width="4.3" stroke-linecap="butt"/>
<path d="M954.5 914.1H973.1M963.8 904.8V923.4" stroke="#58b8e0" stroke-width="4.3" stroke-linecap="butt"/>
<path d="M962.6 918.3H981.2M971.9 909V927.6" stroke="#58b8e0" stroke-width="4.3" stroke-linecap="butt"/>
<path d="M996.6 933.8H1015.2M1005.9 924.5V943.1" stroke="#58b8e0" stroke-width="4.3" stroke-linecap="butt"/>
<path d="M992.1 953.8H1010.7M1001.4 944.5V966.5" stroke="#58b8e0" stroke-width="4.3" stroke-linecap="butt"/>
<path d="M1153 958H1171.6M1162.3 948.7V967.3" stroke="#58b8e0" stroke-width="4.3" stroke-linecap="butt"/>
<path d="M443.4 645.7H462M452.7 631.7V659.7" stroke="#4a8ae8" stroke-width="4.3" stroke-linecap="butt"/>
<path d="M464.9 636.2H483.5M474.2 626.9V645.5" stroke="#4a8ae8" stroke-width="4.3" stroke-linecap="butt"/>
<path d="M478.4 654.7H497M487.7 645.4V664" stroke="#4a8ae8" stroke-width="4.3" stroke-linecap="butt"/>
<path d="M495 651.2H513.6M504.3 641.9V660.5" stroke="#4a8ae8" stroke-width="4.3" stroke-linecap="butt"/>
<path d="M483.9 660.2H502.5M493.2 650.9V669.5" stroke="#4a8ae8" stroke-width="4.3" stroke-linecap="butt"/>
<path d="M491 661.2H509.6M500.3 651.9V670.5" stroke="#4a8ae8" stroke-width="4.3" stroke-linecap="butt"/>
<path d="M501 663.2H519.6M510.3 653.9V672.5" stroke="#4a8ae8" stroke-width="4.3" stroke-linecap="butt"/>
<path d="M513 670.2H531.6M522.3 660.9V679.5" stroke="#4a8ae8" stroke-width="4.3" stroke-linecap="butt"/>
<path d="M522 674.3H540.6M531.3 665V683.6" stroke="#4a8ae8" stroke-width="4.3" stroke-linecap="butt"/>
<path d="M505 675.3H523.6M514.3 666V684.6" stroke="#4a8ae8" stroke-width="4.3" stroke-linecap="butt"/>
<path d="M515 678.3H533.6M524.3 669V687.6" stroke="#4a8ae8" stroke-width="4.3" stroke-linecap="butt"/>
<path d="M526.5 693.8H545.1M535.8 684.5V703.1" stroke="#4a8ae8" stroke-width="4.3" stroke-linecap="butt"/>
<path d="M547.1 693.3H565.7M556.4 684V702.6" stroke="#4a8ae8" stroke-width="4.3" stroke-linecap="butt"/>
<path d="M478.7 650.2H497.3M488 640.9V659.5" stroke="#4a8ae8" stroke-width="4.3" stroke-linecap="butt"/>
<path d="M482.7 655.5H501.3M492 646.2V664.8" stroke="#4a8ae8" stroke-width="4.3" stroke-linecap="butt"/>
<path d="M494.7 651.5H513.3M504 642.2V660.8" stroke="#4a8ae8" stroke-width="4.3" stroke-linecap="butt"/>
<path d="M487.4 658.2H506M496.7 648.9V667.5" stroke="#4a8ae8" stroke-width="4.3" stroke-linecap="butt"/>
<path d="M493.4 663.5H512M502.7 654.2V672.8" stroke="#4a8ae8" stroke-width="4.3" stroke-linecap="butt"/>
<path d="M503.4 669.6H522M512.7 660.3V678.9" stroke="#4a8ae8" stroke-width="4.3" stroke-linecap="butt"/>
<path d="M510.8 672.9H529.4M520.1 663.6V682.2" stroke="#4a8ae8" stroke-width="4.3" stroke-linecap="butt"/>
<path d="M522.2 674.2H540.8M531.5 664.9V683.5" stroke="#4a8ae8" stroke-width="4.3" stroke-linecap="butt"/>
<path d="M517.5 680.9H536.1M526.8 671.6V690.2" stroke="#4a8ae8" stroke-width="4.3" stroke-linecap="butt"/>
<path d="M526.2 693.6H544.8M535.5 684.3V702.9" stroke="#4a8ae8" stroke-width="4.3" stroke-linecap="butt"/>
<path d="M546.9 693.6H565.5M556.2 684.3V702.9" stroke="#4a8ae8" stroke-width="4.3" stroke-linecap="butt"/>
<path d="M554.2 701.6H572.8M563.5 692.3V710.9" stroke="#4a8ae8" stroke-width="4.3" stroke-linecap="butt"/>
<path d="M550.9 709.7H569.5M560.2 700.4V719" stroke="#4a8ae8" stroke-width="4.3" stroke-linecap="butt"/>
<path d="M561.6 708.3H580.2M570.9 699V717.6" stroke="#4a8ae8" stroke-width="4.3" stroke-linecap="butt"/>
<path d="M569.6 711.7H588.2M578.9 702.4V721" stroke="#4a8ae8" stroke-width="4.3" stroke-linecap="butt"/>
<path d="M566.9 719.7H585.5M576.2 710.4V729" stroke="#4a8ae8" stroke-width="4.3" stroke-linecap="butt"/>
<path d="M573.6 718.3H592.2M582.9 709V727.6" stroke="#4a8ae8" stroke-width="4.3" stroke-linecap="butt"/>
<path d="M631.9 761H650.5M641.2 743.4V778" stroke="#4a8ae8" stroke-width="4.3" stroke-linecap="butt"/>
<path d="M803.1 835.1H821.7M812.4 828.1V849.1" stroke="#4a8ae8" stroke-width="4.3" stroke-linecap="butt"/>
<path d="M823.1 855H841.7M832.4 847V867.5" stroke="#4a8ae8" stroke-width="4.3" stroke-linecap="butt"/>
<path d="M888.9 925.5H907.5M898.2 916.2V934.8" stroke="#4a8ae8" stroke-width="4.3" stroke-linecap="butt"/>
<path d="M899.5 933.3H918.1M908.8 922.7V945" stroke="#4a8ae8" stroke-width="4.3" stroke-linecap="butt"/>
<path d="M953.9 942.5H972.5M963.2 933.2V951.8" stroke="#4a8ae8" stroke-width="4.3" stroke-linecap="butt"/>
<path d="M260.3 653.5H277.8M269.1 639.6V662.1" stroke="#000000" stroke-width="4.3" stroke-opacity="0.8" stroke-linecap="butt"/>
<path d="M259.8 653.5H278.4M269.1 644.2V662.8" stroke="#000000" stroke-width="4.3" stroke-opacity="0.8"/>
<path d="M263.4 646.4H281.5M272.4 637.9V659" stroke="#000000" stroke-width="4.3" stroke-opacity="0.8" stroke-linecap="butt"/>
<path d="M263.1 646.4H281.7M272.4 637.1V655.7" stroke="#000000" stroke-width="4.3" stroke-opacity="0.8"/>
<path d="M264.1 644.4H282.4M273.3 635.8V653.2" stroke="#000000" stroke-width="4.3" stroke-opacity="0.8" stroke-linecap="butt"/>
<path d="M264 644.4H282.6M273.3 635.1V653.7" stroke="#000000" stroke-width="4.3" stroke-opacity="0.8"/>
<path d="M268.4 638H287.9M278.2 628.9V648" stroke="#000000" stroke-width="4.3" stroke-opacity="0.8" stroke-linecap="butt"/>
<path d="M268.9 638H287.5M278.2 628.7V647.3" stroke="#000000" stroke-width="4.3" stroke-opacity="0.8"/>
<path d="M260.1 638.4H279.9M270 625.2V649.9" stroke="#000000" stroke-width="4.3" stroke-opacity="0.8" stroke-linecap="butt"/>
<path d="M260.7 638.4H279.3M270 629.1V647.7" stroke="#000000" stroke-width="4.3" stroke-opacity="0.8"/>
<path d="M268.2 644.9H285.4M276.8 629.2V655.5" stroke="#000000" stroke-width="4.3" stroke-opacity="0.8" stroke-linecap="butt"/>
<path d="M267.5 644.9H286.1M276.8 635.6V654.2" stroke="#000000" stroke-width="4.3" stroke-opacity="0.8"/>
<path d="M266.9 636.6H284.3M275.6 625.8V652" stroke="#000000" stroke-width="4.3" stroke-opacity="0.8" stroke-linecap="butt"/>
<path d="M266.3 636.6H284.9M275.6 627.3V645.9" stroke="#000000" stroke-width="4.3" stroke-opacity="0.8"/>
<path d="M262.8 655H281.5M272.2 641.3V666.4" stroke="#000000" stroke-width="4.3" stroke-opacity="0.8" stroke-linecap="butt"/>
<path d="M262.9 655H281.5M272.2 645.7V664.3" stroke="#000000" stroke-width="4.3" stroke-opacity="0.8"/>
<path d="M283.2 665.8H300.4M291.8 657.3V675.7" stroke="#000000" stroke-width="4.3" stroke-opacity="0.8" stroke-linecap="butt"/>
<path d="M282.5 665.8H301.1M291.8 656.5V675.1" stroke="#000000" stroke-width="4.3" stroke-opacity="0.8"/>
<path d="M293.6 658.1H311.9M302.7 647.3V671.4" stroke="#000000" stroke-width="4.3" stroke-opacity="0.8" stroke-linecap="butt"/>
<path d="M293.4 658.1H312M302.7 648.8V667.4" stroke="#000000" stroke-width="4.3" stroke-opacity="0.8"/>
<path d="M296.7 654.1H314.6M305.6 639V668.4" stroke="#000000" stroke-width="4.3" stroke-opacity="0.8" stroke-linecap="butt"/>
<path d="M296.3 654.1H314.9M305.6 644.8V663.4" stroke="#000000" stroke-width="4.3" stroke-opacity="0.8"/>
<path d="M283.9 651.3H302.6M293.2 638.6V667.2" stroke="#000000" stroke-width="4.3" stroke-opacity="0.8" stroke-linecap="butt"/>
<path d="M283.9 651.3H302.5M293.2 642V660.6" stroke="#000000" stroke-width="4.3" stroke-opacity="0.8"/>
<path d="M306.2 655.4H324.1M315.1 638.6V664.5" stroke="#000000" stroke-width="4.3" stroke-opacity="0.8" stroke-linecap="butt"/>
<path d="M305.8 655.4H324.4M315.1 646.1V664.7" stroke="#000000" stroke-width="4.3" stroke-opacity="0.8"/>
<path d="M300.6 657.9H319.8M310.2 648.5V670.3" stroke="#000000" stroke-width="4.3" stroke-opacity="0.8" stroke-linecap="butt"/>
<path d="M300.9 657.9H319.5M310.2 648.6V667.2" stroke="#000000" stroke-width="4.3" stroke-opacity="0.8"/>
<path d="M302.2 656.3H321.2M311.7 641.4V669.5" stroke="#000000" stroke-width="4.3" stroke-opacity="0.8" stroke-linecap="butt"/>
<path d="M302.4 656.3H321M311.7 647V665.6" stroke="#000000" stroke-width="4.3" stroke-opacity="0.8"/>
<path d="M323.5 660.8H341.5M332.5 646.6V674.2" stroke="#000000" stroke-width="4.3" stroke-opacity="0.8" stroke-linecap="butt"/>
<path d="M323.2 660.8H341.8M332.5 651.5V670.1" stroke="#000000" stroke-width="4.3" stroke-opacity="0.8"/>
<path d="M327.1 657.9H345.4M336.2 642.3V674.4" stroke="#000000" stroke-width="4.3" stroke-opacity="0.8" stroke-linecap="butt"/>
<path d="M326.9 657.9H345.5M336.2 648.6V667.2" stroke="#000000" stroke-width="4.3" stroke-opacity="0.8"/>
<path d="M332 653.9H351M341.5 645.3V668.2" stroke="#000000" stroke-width="4.3" stroke-opacity="0.8" stroke-linecap="butt"/>
<path d="M332.2 653.9H350.8M341.5 644.6V663.2" stroke="#000000" stroke-width="4.3" stroke-opacity="0.8"/>
<path d="M331.5 653H351.5M341.5 637.6V663.6" stroke="#000000" stroke-width="4.3" stroke-opacity="0.8" stroke-linecap="butt"/>
<path d="M332.2 653H350.8M341.5 643.7V662.3" stroke="#000000" stroke-width="4.3" stroke-opacity="0.8"/>
<path d="M325 648.3H344M334.5 640V660.4" stroke="#000000" stroke-width="4.3" stroke-opacity="0.8" stroke-linecap="butt"/>
<path d="M325.2 648.3H343.8M334.5 639V657.6" stroke="#000000" stroke-width="4.3" stroke-opacity="0.8"/>
<path d="M340.7 662.9H358M349.4 654.3V677.8" stroke="#000000" stroke-width="4.3" stroke-opacity="0.8" stroke-linecap="butt"/>
<path d="M340.1 662.9H358.7M349.4 653.6V672.2" stroke="#000000" stroke-width="4.3" stroke-opacity="0.8"/>
<path d="M346.2 659.7H363.9M355.1 648.2V675.6" stroke="#000000" stroke-width="4.3" stroke-opacity="0.8" stroke-linecap="butt"/>
<path d="M345.8 659.7H364.4M355.1 650.4V669" stroke="#000000" stroke-width="4.3" stroke-opacity="0.8"/>
<path d="M352.4 656.4H370.8M361.6 643.5V672.3" stroke="#000000" stroke-width="4.3" stroke-opacity="0.8" stroke-linecap="butt"/>
<path d="M352.3 656.4H370.9M361.6 647.1V665.7" stroke="#000000" stroke-width="4.3" stroke-opacity="0.8"/>
<path d="M356.3 656.5H375.9M366.1 646V668.2" stroke="#000000" stroke-width="4.3" stroke-opacity="0.8" stroke-linecap="butt"/>
<path d="M356.8 656.5H375.4M366.1 647.2V665.8" stroke="#000000" stroke-width="4.3" stroke-opacity="0.8"/>
<path d="M363.2 661.1H382.9M373.1 644.4V670.4" stroke="#000000" stroke-width="4.3" stroke-opacity="0.8" stroke-linecap="butt"/>
<path d="M363.8 661.1H382.4M373.1 651.8V670.4" stroke="#000000" stroke-width="4.3" stroke-opacity="0.8"/>
<path d="M364.5 660.2H382.2M373.3 650.1V672.6" stroke="#000000" stroke-width="4.3" stroke-opacity="0.8" stroke-linecap="butt"/>
<path d="M364 660.2H382.6M373.3 650.9V669.5" stroke="#000000" stroke-width="4.3" stroke-opacity="0.8"/>
<path d="M370.3 667.3H388.1M379.2 659.3V679.1" stroke="#000000" stroke-width="4.3" stroke-opacity="0.8" stroke-linecap="butt"/>
<path d="M369.9 667.3H388.5M379.2 658V676.6" stroke="#000000" stroke-width="4.3" stroke-opacity="0.8"/>
<path d="M373.1 671.3H391.8M382.5 654.8V685.6" stroke="#000000" stroke-width="4.3" stroke-opacity="0.8" stroke-linecap="butt"/>
<path d="M373.2 671.3H391.8M382.5 662V680.6" stroke="#000000" stroke-width="4.3" stroke-opacity="0.8"/>
<path d="M377.4 677.3H396.3M386.9 663.2V685.7" stroke="#000000" stroke-width="4.3" stroke-opacity="0.8" stroke-linecap="butt"/>
<path d="M377.6 677.3H396.2M386.9 668V686.6" stroke="#000000" stroke-width="4.3" stroke-opacity="0.8"/>
<path d="M394.4 681.4H413.8M404.1 665.6V696.6" stroke="#000000" stroke-width="4.3" stroke-opacity="0.8" stroke-linecap="butt"/>
<path d="M394.8 681.4H413.4M404.1 672.1V690.7" stroke="#000000" stroke-width="4.3" stroke-opacity="0.8"/>
<path d="M391.5 681.6H409.7M400.6 672.6V695.3" stroke="#000000" stroke-width="4.3" stroke-opacity="0.8" stroke-linecap="butt"/>
<path d="M391.3 681.6H409.9M400.6 672.3V690.9" stroke="#000000" stroke-width="4.3" stroke-opacity="0.8"/>
<path d="M396.2 683.2H413.4M404.8 673.3V692.6" stroke="#000000" stroke-width="4.3" stroke-opacity="0.8" stroke-linecap="butt"/>
<path d="M395.5 683.2H414.1M404.8 673.9V692.5" stroke="#000000" stroke-width="4.3" stroke-opacity="0.8"/>
<path d="M403.1 685.8H420.2M411.7 677.8V695.2" stroke="#000000" stroke-width="4.3" stroke-opacity="0.8" stroke-linecap="butt"/>
<path d="M402.4 685.8H421M411.7 676.5V695.1" stroke="#000000" stroke-width="4.3" stroke-opacity="0.8"/>
<path d="M412.2 687.7H430.3M421.2 679.5V703.6" stroke="#000000" stroke-width="4.3" stroke-opacity="0.8" stroke-linecap="butt"/>
<path d="M411.9 687.7H430.5M421.2 678.4V697" stroke="#000000" stroke-width="4.3" stroke-opacity="0.8"/>
<path d="M421.7 685.9H439.2M430.5 675.7V697.1" stroke="#000000" stroke-width="4.3" stroke-opacity="0.8" stroke-linecap="butt"/>
<path d="M421.2 685.9H439.8M430.5 676.6V695.2" stroke="#000000" stroke-width="4.3" stroke-opacity="0.8"/>
<path d="M427 684.9H444.4M435.7 669.3V701.9" stroke="#000000" stroke-width="4.3" stroke-opacity="0.8" stroke-linecap="butt"/>
<path d="M426.4 684.9H445M435.7 675.6V694.2" stroke="#000000" stroke-width="4.3" stroke-opacity="0.8"/>
<path d="M426.9 684.9H445.4M436.1 676.2V693.9" stroke="#000000" stroke-width="4.3" stroke-opacity="0.8" stroke-linecap="butt"/>
<path d="M426.8 684.9H445.4M436.1 675.6V694.2" stroke="#000000" stroke-width="4.3" stroke-opacity="0.8"/>
<path d="M430 680.2H447.8M438.9 664.8V689.7" stroke="#000000" stroke-width="4.3" stroke-opacity="0.8" stroke-linecap="butt"/>
<path d="M429.6 680.2H448.2M438.9 670.9V689.5" stroke="#000000" stroke-width="4.3" stroke-opacity="0.8"/>
<path d="M426.6 684.6H446.4M436.5 671.8V693.9" stroke="#000000" stroke-width="4.3" stroke-opacity="0.8" stroke-linecap="butt"/>
<path d="M427.2 684.6H445.8M436.5 675.3V693.9" stroke="#000000" stroke-width="4.3" stroke-opacity="0.8"/>
<path d="M427 702.3H444M435.5 689.5V719.1" stroke="#000000" stroke-width="4.3" stroke-opacity="0.8" stroke-linecap="butt"/>
<path d="M426.2 702.3H444.8M435.5 693V711.6" stroke="#000000" stroke-width="4.3" stroke-opacity="0.8"/>
<path d="M430.8 709.3H449.9M440.4 699V720.6" stroke="#000000" stroke-width="4.3" stroke-opacity="0.8" stroke-linecap="butt"/>
<path d="M431.1 709.3H449.7M440.4 700V718.6" stroke="#000000" stroke-width="4.3" stroke-opacity="0.8"/>
<path d="M432.5 711.8H451.8M442.1 699V726.9" stroke="#000000" stroke-width="4.3" stroke-opacity="0.8" stroke-linecap="butt"/>
<path d="M432.8 711.8H451.4M442.1 702.5V721.1" stroke="#000000" stroke-width="4.3" stroke-opacity="0.8"/>
<path d="M442.6 720.6H460.3M451.4 705.3V737.5" stroke="#000000" stroke-width="4.3" stroke-opacity="0.8" stroke-linecap="butt"/>
<path d="M442.1 720.6H460.7M451.4 711.3V729.9" stroke="#000000" stroke-width="4.3" stroke-opacity="0.8"/>
<path d="M450.3 723.8H469.7M460 708.4V738.4" stroke="#000000" stroke-width="4.3" stroke-opacity="0.8" stroke-linecap="butt"/>
<path d="M450.7 723.8H469.3M460 714.5V733.1" stroke="#000000" stroke-width="4.3" stroke-opacity="0.8"/>
<path d="M463.5 720.6H482.1M472.8 709.4V728.9" stroke="#000000" stroke-width="4.3" stroke-opacity="0.8" stroke-linecap="butt"/>
<path d="M463.5 720.6H482.1M472.8 711.3V729.9" stroke="#000000" stroke-width="4.3" stroke-opacity="0.8"/>
<path d="M467.6 716H485.4M476.5 705.7V730.3" stroke="#000000" stroke-width="4.3" stroke-opacity="0.8" stroke-linecap="butt"/>
<path d="M467.2 716H485.8M476.5 706.7V725.3" stroke="#000000" stroke-width="4.3" stroke-opacity="0.8"/>
<path d="M472.6 714.1H490.9M481.7 697.7V731" stroke="#000000" stroke-width="4.3" stroke-opacity="0.8" stroke-linecap="butt"/>
<path d="M472.4 714.1H491M481.7 704.8V723.4" stroke="#000000" stroke-width="4.3" stroke-opacity="0.8"/>
<path d="M468 712.7H486.1M477 702.7V722.7" stroke="#000000" stroke-width="4.3" stroke-opacity="0.8" stroke-linecap="butt"/>
<path d="M467.7 712.7H486.3M477 703.4V722" stroke="#000000" stroke-width="4.3" stroke-opacity="0.8"/>
<path d="M469 715.3H486.6M477.8 701.7V731.4" stroke="#000000" stroke-width="4.3" stroke-opacity="0.8" stroke-linecap="butt"/>
<path d="M468.5 715.3H487.1M477.8 706V724.6" stroke="#000000" stroke-width="4.3" stroke-opacity="0.8"/>
<path d="M471.5 725.3H489.9M480.7 711.5V740.5" stroke="#000000" stroke-width="4.3" stroke-opacity="0.8" stroke-linecap="butt"/>
<path d="M471.4 725.3H490M480.7 716V734.6" stroke="#000000" stroke-width="4.3" stroke-opacity="0.8"/>
<path d="M473.2 730.3H492.2M482.7 714.1V745.4" stroke="#000000" stroke-width="4.3" stroke-opacity="0.8" stroke-linecap="butt"/>
<path d="M473.4 730.3H492M482.7 721V739.6" stroke="#000000" stroke-width="4.3" stroke-opacity="0.8"/>
<path d="M478.6 738H497.1M487.8 728.4V753.1" stroke="#000000" stroke-width="4.3" stroke-opacity="0.8" stroke-linecap="butt"/>
<path d="M478.5 738H497.1M487.8 728.7V747.3" stroke="#000000" stroke-width="4.3" stroke-opacity="0.8"/>
<path d="M480.4 741.3H499.8M490.1 724.6V752.9" stroke="#000000" stroke-width="4.3" stroke-opacity="0.8" stroke-linecap="butt"/>
<path d="M480.8 741.3H499.4M490.1 732V750.6" stroke="#000000" stroke-width="4.3" stroke-opacity="0.8"/>
<path d="M485.6 748.5H505.4M495.5 734V758" stroke="#000000" stroke-width="4.3" stroke-opacity="0.8" stroke-linecap="butt"/>
<path d="M486.2 748.5H504.8M495.5 739.2V757.8" stroke="#000000" stroke-width="4.3" stroke-opacity="0.8"/>
<path d="M497.2 757H514.7M506 740.9V772.3" stroke="#000000" stroke-width="4.3" stroke-opacity="0.8" stroke-linecap="butt"/>
<path d="M496.7 757H515.3M506 747.7V766.3" stroke="#000000" stroke-width="4.3" stroke-opacity="0.8"/>
<path d="M499.4 752.6H518.9M509.2 735.8V766.5" stroke="#000000" stroke-width="4.3" stroke-opacity="0.8" stroke-linecap="butt"/>
<path d="M499.9 752.6H518.5M509.2 743.3V761.9" stroke="#000000" stroke-width="4.3" stroke-opacity="0.8"/>
<path d="M500.8 761.2H519.5M510.2 752V769.3" stroke="#000000" stroke-width="4.3" stroke-opacity="0.8" stroke-linecap="butt"/>
<path d="M500.9 761.2H519.5M510.2 751.9V770.5" stroke="#000000" stroke-width="4.3" stroke-opacity="0.8"/>
<path d="M502 772.2H520.9M511.5 759.5V788.6" stroke="#000000" stroke-width="4.3" stroke-opacity="0.8" stroke-linecap="butt"/>
<path d="M502.2 772.2H520.8M511.5 762.9V781.5" stroke="#000000" stroke-width="4.3" stroke-opacity="0.8"/>
<path d="M503 778.6H522.6M512.8 763.2V788.5" stroke="#000000" stroke-width="4.3" stroke-opacity="0.8" stroke-linecap="butt"/>
<path d="M503.5 778.6H522.1M512.8 769.3V787.9" stroke="#000000" stroke-width="4.3" stroke-opacity="0.8"/>
<path d="M505.4 785.4H523.3M514.3 775.2V798.6" stroke="#000000" stroke-width="4.3" stroke-opacity="0.8" stroke-linecap="butt"/>
<path d="M505 785.4H523.6M514.3 776.1V794.7" stroke="#000000" stroke-width="4.3" stroke-opacity="0.8"/>
<path d="M505.7 793H524M514.9 783.9V809.2" stroke="#000000" stroke-width="4.3" stroke-opacity="0.8" stroke-linecap="butt"/>
<path d="M505.6 793H524.2M514.9 783.7V802.3" stroke="#000000" stroke-width="4.3" stroke-opacity="0.8"/>
<path d="M506.3 801.3H524.6M515.4 788V817.4" stroke="#000000" stroke-width="4.3" stroke-opacity="0.8" stroke-linecap="butt"/>
<path d="M506.1 801.3H524.7M515.4 792V810.6" stroke="#000000" stroke-width="4.3" stroke-opacity="0.8"/>
<path d="M505.8 807.6H525.5M515.6 795.1V820.4" stroke="#000000" stroke-width="4.3" stroke-opacity="0.8" stroke-linecap="butt"/>
<path d="M506.3 807.6H524.9M515.6 798.3V816.9" stroke="#000000" stroke-width="4.3" stroke-opacity="0.8"/>
<path d="M506.5 814.9H523.6M515.1 802.9V824.5" stroke="#000000" stroke-width="4.3" stroke-opacity="0.8" stroke-linecap="butt"/>
<path d="M505.8 814.9H524.4M515.1 805.6V824.2" stroke="#000000" stroke-width="4.3" stroke-opacity="0.8"/>
<path d="M505.1 818.8H524.5M514.8 809.3V831.1" stroke="#000000" stroke-width="4.3" stroke-opacity="0.8" stroke-linecap="butt"/>
<path d="M505.5 818.8H524.1M514.8 809.5V828.1" stroke="#000000" stroke-width="4.3" stroke-opacity="0.8"/>
<path d="M504.9 830H523.5M514.2 819V842.6" stroke="#000000" stroke-width="4.3" stroke-opacity="0.8" stroke-linecap="butt"/>
<path d="M504.9 830H523.5M514.2 820.7V839.3" stroke="#000000" stroke-width="4.3" stroke-opacity="0.8"/>
<path d="M504.5 835.6H523.9M514.2 826.6V848.6" stroke="#000000" stroke-width="4.3" stroke-opacity="0.8" stroke-linecap="butt"/>
<path d="M504.9 835.6H523.5M514.2 826.3V844.9" stroke="#000000" stroke-width="4.3" stroke-opacity="0.8"/>
<path d="M505.3 840.5H523.1M514.2 825.5V853.1" stroke="#000000" stroke-width="4.3" stroke-opacity="0.8" stroke-linecap="butt"/>
<path d="M504.9 840.5H523.5M514.2 831.2V849.8" stroke="#000000" stroke-width="4.3" stroke-opacity="0.8"/>
<path d="M503.3 844.6H522.6M513 828.3V856.5" stroke="#000000" stroke-width="4.3" stroke-opacity="0.8" stroke-linecap="butt"/>
<path d="M503.7 844.6H522.3M513 835.3V853.9" stroke="#000000" stroke-width="4.3" stroke-opacity="0.8"/>
<path d="M502.7 846.5H521.2M511.9 833.9V860.8" stroke="#000000" stroke-width="4.3" stroke-opacity="0.8" stroke-linecap="butt"/>
<path d="M502.6 846.5H521.2M511.9 837.2V855.8" stroke="#000000" stroke-width="4.3" stroke-opacity="0.8"/>
<path d="M497.1 847.6H515.7M506.4 835.3V864.1" stroke="#000000" stroke-width="4.3" stroke-opacity="0.8" stroke-linecap="butt"/>
<path d="M497.1 847.6H515.7M506.4 838.3V856.9" stroke="#000000" stroke-width="4.3" stroke-opacity="0.8"/>
<path d="M489.3 847.3H508.9M499.1 830.8V857.6" stroke="#000000" stroke-width="4.3" stroke-opacity="0.8" stroke-linecap="butt"/>
<path d="M489.8 847.3H508.4M499.1 838V856.6" stroke="#000000" stroke-width="4.3" stroke-opacity="0.8"/>
<path d="M486.1 846.3H505.9M496 830.8V855.6" stroke="#000000" stroke-width="4.3" stroke-opacity="0.8" stroke-linecap="butt"/>
<path d="M486.7 846.3H505.3M496 837V855.6" stroke="#000000" stroke-width="4.3" stroke-opacity="0.8"/>
<path d="M483.2 843.2H501.6M492.4 834.6V853.4" stroke="#000000" stroke-width="4.3" stroke-opacity="0.8" stroke-linecap="butt"/>
<path d="M483.1 843.2H501.7M492.4 833.9V852.5" stroke="#000000" stroke-width="4.3" stroke-opacity="0.8"/>
<path d="M464.3 841H483.3M473.8 825.9V857.1" stroke="#000000" stroke-width="4.3" stroke-opacity="0.8" stroke-linecap="butt"/>
<path d="M464.5 841H483.1M473.8 831.7V850.3" stroke="#000000" stroke-width="4.3" stroke-opacity="0.8"/>
<path d="M460.1 847.1H479.2M469.7 833.2V856.4" stroke="#000000" stroke-width="4.3" stroke-opacity="0.8" stroke-linecap="butt"/>
<path d="M460.4 847.1H479M469.7 837.8V856.4" stroke="#000000" stroke-width="4.3" stroke-opacity="0.8"/>
<path d="M467.6 847.6H487.5M477.5 837.6V864.1" stroke="#000000" stroke-width="4.3" stroke-opacity="0.8" stroke-linecap="butt"/>
<path d="M468.2 847.6H486.8M477.5 838.3V856.9" stroke="#000000" stroke-width="4.3" stroke-opacity="0.8"/>
<path d="M465.5 844H484M474.8 827.1V859.5" stroke="#000000" stroke-width="4.3" stroke-opacity="0.8" stroke-linecap="butt"/>
<path d="M465.5 844H484.1M474.8 834.7V853.3" stroke="#000000" stroke-width="4.3" stroke-opacity="0.8"/>
<path d="M464.1 848.2H482.4M473.3 835.6V859.3" stroke="#000000" stroke-width="4.3" stroke-opacity="0.8" stroke-linecap="butt"/>
<path d="M464 848.2H482.6M473.3 838.9V857.5" stroke="#000000" stroke-width="4.3" stroke-opacity="0.8"/>
<path d="M466.5 842.4H484.5M475.5 827.9V850.6" stroke="#000000" stroke-width="4.3" stroke-opacity="0.8" stroke-linecap="butt"/>
<path d="M466.2 842.4H484.8M475.5 833.1V851.7" stroke="#000000" stroke-width="4.3" stroke-opacity="0.8"/>
<path d="M469.1 835.2H487.5M478.3 827V846.2" stroke="#000000" stroke-width="4.3" stroke-opacity="0.8" stroke-linecap="butt"/>
<path d="M469 835.2H487.6M478.3 825.9V844.5" stroke="#000000" stroke-width="4.3" stroke-opacity="0.8"/>
<path d="M468.3 821.5H486.8M477.5 813V838.4" stroke="#000000" stroke-width="4.3" stroke-opacity="0.8" stroke-linecap="butt"/>
<path d="M468.2 821.5H486.8M477.5 812.2V830.8" stroke="#000000" stroke-width="4.3" stroke-opacity="0.8"/>
<path d="M463.9 814.2H483.8M473.9 805.2V824.6" stroke="#000000" stroke-width="4.3" stroke-opacity="0.8" stroke-linecap="butt"/>
<path d="M464.6 814.2H483.2M473.9 804.9V823.5" stroke="#000000" stroke-width="4.3" stroke-opacity="0.8"/>
<path d="M457.2 807.1H476.5M466.8 796.6V816.2" stroke="#000000" stroke-width="4.3" stroke-opacity="0.8" stroke-linecap="butt"/>
<path d="M457.5 807.1H476.1M466.8 797.8V816.4" stroke="#000000" stroke-width="4.3" stroke-opacity="0.8"/>
<path d="M449.3 805H469M459.2 789.6V815.3" stroke="#000000" stroke-width="4.3" stroke-opacity="0.8" stroke-linecap="butt"/>
<path d="M449.9 805H468.5M459.2 795.7V814.3" stroke="#000000" stroke-width="4.3" stroke-opacity="0.8"/>
<path d="M444.7 803.7H464.5M454.6 790.5V818" stroke="#000000" stroke-width="4.3" stroke-opacity="0.8" stroke-linecap="butt"/>
<path d="M445.3 803.7H463.9M454.6 794.4V813" stroke="#000000" stroke-width="4.3" stroke-opacity="0.8"/>
<path d="M440.5 802.1H457.6M449 787.9V814" stroke="#000000" stroke-width="4.3" stroke-opacity="0.8" stroke-linecap="butt"/>
<path d="M439.7 802.1H458.3M449 792.8V811.4" stroke="#000000" stroke-width="4.3" stroke-opacity="0.8"/>
<path d="M437.2 802.5H457.1M447.2 788.8V817.7" stroke="#000000" stroke-width="4.3" stroke-opacity="0.8" stroke-linecap="butt"/>
<path d="M437.9 802.5H456.5M447.2 793.2V811.8" stroke="#000000" stroke-width="4.3" stroke-opacity="0.8"/>
<path d="M432.6 801.8H452.2M442.4 793.2V817.6" stroke="#000000" stroke-width="4.3" stroke-opacity="0.8" stroke-linecap="butt"/>
<path d="M433.1 801.8H451.7M442.4 792.5V811.1" stroke="#000000" stroke-width="4.3" stroke-opacity="0.8"/>
<path d="M428.2 781.3H446.3M437.3 768.4V797.7" stroke="#000000" stroke-width="4.3" stroke-opacity="0.8" stroke-linecap="butt"/>
<path d="M428 781.3H446.6M437.3 772V790.6" stroke="#000000" stroke-width="4.3" stroke-opacity="0.8"/>
<path d="M415.8 774H433.2M424.5 761.2V784.1" stroke="#000000" stroke-width="4.3" stroke-opacity="0.8" stroke-linecap="butt"/>
<path d="M415.2 774H433.8M424.5 764.7V783.3" stroke="#000000" stroke-width="4.3" stroke-opacity="0.8"/>
<path d="M413.2 775.9H430.7M421.9 767.4V785.7" stroke="#000000" stroke-width="4.3" stroke-opacity="0.8" stroke-linecap="butt"/>
<path d="M412.6 775.9H431.2M421.9 766.6V785.2" stroke="#000000" stroke-width="4.3" stroke-opacity="0.8"/>
<path d="M408.4 770.1H426.4M417.4 755.3V780.8" stroke="#000000" stroke-width="4.3" stroke-opacity="0.8" stroke-linecap="butt"/>
<path d="M408.1 770.1H426.7M417.4 760.8V779.4" stroke="#000000" stroke-width="4.3" stroke-opacity="0.8"/>
<path d="M404 764.4H421.5M412.8 753.2V772.5" stroke="#000000" stroke-width="4.3" stroke-opacity="0.8" stroke-linecap="butt"/>
<path d="M403.5 764.4H422.1M412.8 755.1V773.7" stroke="#000000" stroke-width="4.3" stroke-opacity="0.8"/>
<path d="M401.1 760.5H418.1M409.6 745.9V773.5" stroke="#000000" stroke-width="4.3" stroke-opacity="0.8" stroke-linecap="butt"/>
<path d="M400.3 760.5H418.9M409.6 751.2V769.8" stroke="#000000" stroke-width="4.3" stroke-opacity="0.8"/>
<path d="M398.5 758.5H417M407.8 742.1V767.5" stroke="#000000" stroke-width="4.3" stroke-opacity="0.8" stroke-linecap="butt"/>
<path d="M398.5 758.5H417.1M407.8 749.2V767.8" stroke="#000000" stroke-width="4.3" stroke-opacity="0.8"/>
<path d="M392.3 744.2H410.6M401.4 731.8V759.7" stroke="#000000" stroke-width="4.3" stroke-opacity="0.8" stroke-linecap="butt"/>
<path d="M392.1 744.2H410.7M401.4 734.9V753.5" stroke="#000000" stroke-width="4.3" stroke-opacity="0.8"/>
<path d="M389.4 740.4H407.9M398.7 726.2V757.2" stroke="#000000" stroke-width="4.3" stroke-opacity="0.8" stroke-linecap="butt"/>
<path d="M389.4 740.4H408M398.7 731.1V749.7" stroke="#000000" stroke-width="4.3" stroke-opacity="0.8"/>
<path d="M382.1 733.1H401.6M391.8 718.8V746.9" stroke="#000000" stroke-width="4.3" stroke-opacity="0.8" stroke-linecap="butt"/>
<path d="M382.5 733.1H401.1M391.8 723.8V742.4" stroke="#000000" stroke-width="4.3" stroke-opacity="0.8"/>
<path d="M377 729.3H395M386 720.8V738.5" stroke="#000000" stroke-width="4.3" stroke-opacity="0.8" stroke-linecap="butt"/>
<path d="M376.7 729.3H395.3M386 720V738.6" stroke="#000000" stroke-width="4.3" stroke-opacity="0.8"/>
<path d="M372.2 726.5H391.5M381.9 716.2V736" stroke="#000000" stroke-width="4.3" stroke-opacity="0.8" stroke-linecap="butt"/>
<path d="M372.6 726.5H391.2M381.9 717.2V735.8" stroke="#000000" stroke-width="4.3" stroke-opacity="0.8"/>
<path d="M355.6 723.8H375.1M365.4 708V737.8" stroke="#000000" stroke-width="4.3" stroke-opacity="0.8" stroke-linecap="butt"/>
<path d="M356.1 723.8H374.7M365.4 714.5V733.1" stroke="#000000" stroke-width="4.3" stroke-opacity="0.8"/>
<path d="M349.9 729.3H367.6M358.8 718.7V741.4" stroke="#000000" stroke-width="4.3" stroke-opacity="0.8" stroke-linecap="butt"/>
<path d="M349.5 729.3H368.1M358.8 720V738.6" stroke="#000000" stroke-width="4.3" stroke-opacity="0.8"/>
<path d="M344.5 733.5H362.8M353.7 723.2V750.2" stroke="#000000" stroke-width="4.3" stroke-opacity="0.8" stroke-linecap="butt"/>
<path d="M344.4 733.5H363M353.7 724.2V742.8" stroke="#000000" stroke-width="4.3" stroke-opacity="0.8"/>
<path d="M334.9 741.3H353.6M344.2 731.1V758" stroke="#000000" stroke-width="4.3" stroke-opacity="0.8" stroke-linecap="butt"/>
<path d="M334.9 741.3H353.5M344.2 732V750.6" stroke="#000000" stroke-width="4.3" stroke-opacity="0.8"/>
<path d="M345.5 742.1H363.6M354.6 734.1V753.5" stroke="#000000" stroke-width="4.3" stroke-opacity="0.8" stroke-linecap="butt"/>
<path d="M345.3 742.1H363.9M354.6 732.8V751.4" stroke="#000000" stroke-width="4.3" stroke-opacity="0.8"/>
<path d="M340.8 735.5H359.3M350.1 725.7V748" stroke="#000000" stroke-width="4.3" stroke-opacity="0.8" stroke-linecap="butt"/>
<path d="M340.8 735.5H359.4M350.1 726.2V744.8" stroke="#000000" stroke-width="4.3" stroke-opacity="0.8"/>
<path d="M339.4 732H357.2M348.3 723.2V743.6" stroke="#000000" stroke-width="4.3" stroke-opacity="0.8" stroke-linecap="butt"/>
<path d="M339 732H357.6M348.3 722.7V741.3" stroke="#000000" stroke-width="4.3" stroke-opacity="0.8"/>
<path d="M332.6 722.2H349.7M341.2 711.5V732.3" stroke="#000000" stroke-width="4.3" stroke-opacity="0.8" stroke-linecap="butt"/>
<path d="M331.9 722.2H350.5M341.2 712.9V731.5" stroke="#000000" stroke-width="4.3" stroke-opacity="0.8"/>
<path d="M321 716.8H339.6M330.3 702V730.7" stroke="#000000" stroke-width="4.3" stroke-opacity="0.8" stroke-linecap="butt"/>
<path d="M321 716.8H339.6M330.3 707.5V726.1" stroke="#000000" stroke-width="4.3" stroke-opacity="0.8"/>
<path d="M303 716.4H322.7M312.9 704.9V727.4" stroke="#000000" stroke-width="4.3" stroke-opacity="0.8" stroke-linecap="butt"/>
<path d="M303.6 716.4H322.2M312.9 707.1V725.7" stroke="#000000" stroke-width="4.3" stroke-opacity="0.8"/>
<path d="M302.7 716.1H320.1M311.4 701.6V729.9" stroke="#000000" stroke-width="4.3" stroke-opacity="0.8" stroke-linecap="butt"/>
<path d="M302.1 716.1H320.7M311.4 706.8V725.4" stroke="#000000" stroke-width="4.3" stroke-opacity="0.8"/>
<path d="M300.2 715.2H319.7M310 699.2V728.8" stroke="#000000" stroke-width="4.3" stroke-opacity="0.8" stroke-linecap="butt"/>
<path d="M300.7 715.2H319.3M310 705.9V724.5" stroke="#000000" stroke-width="4.3" stroke-opacity="0.8"/>
<path d="M282.3 712.4H301.8M292.1 703.2V725.1" stroke="#000000" stroke-width="4.3" stroke-opacity="0.8" stroke-linecap="butt"/>
<path d="M282.8 712.4H301.4M292.1 703.1V721.7" stroke="#000000" stroke-width="4.3" stroke-opacity="0.8"/>
<path d="M276.9 714.7H296.4M286.7 699.5V730.2" stroke="#000000" stroke-width="4.3" stroke-opacity="0.8" stroke-linecap="butt"/>
<path d="M277.4 714.7H296M286.7 705.4V724" stroke="#000000" stroke-width="4.3" stroke-opacity="0.8"/>
<path d="M266.9 723.6H286.5M276.7 709.5V737.9" stroke="#000000" stroke-width="4.3" stroke-opacity="0.8" stroke-linecap="butt"/>
<path d="M267.4 723.6H286M276.7 714.3V732.9" stroke="#000000" stroke-width="4.3" stroke-opacity="0.8"/>
<path d="M265.6 728.4H282.7M274.2 719.2V739.6" stroke="#000000" stroke-width="4.3" stroke-opacity="0.8" stroke-linecap="butt"/>
<path d="M264.9 728.4H283.5M274.2 719.1V737.7" stroke="#000000" stroke-width="4.3" stroke-opacity="0.8"/>
<path d="M269.2 729H288.8M279 716V742.6" stroke="#000000" stroke-width="4.3" stroke-opacity="0.8" stroke-linecap="butt"/>
<path d="M269.7 729H288.3M279 719.7V738.3" stroke="#000000" stroke-width="4.3" stroke-opacity="0.8"/>
<path d="M275 734.1H294M284.5 721.7V742.2" stroke="#000000" stroke-width="4.3" stroke-opacity="0.8" stroke-linecap="butt"/>
<path d="M275.2 734.1H293.8M284.5 724.8V743.4" stroke="#000000" stroke-width="4.3" stroke-opacity="0.8"/>
<path d="M274.4 726.6H293.7M284 714V739.4" stroke="#000000" stroke-width="4.3" stroke-opacity="0.8" stroke-linecap="butt"/>
<path d="M274.7 726.6H293.3M284 717.3V735.9" stroke="#000000" stroke-width="4.3" stroke-opacity="0.8"/>
<path d="M266.1 715.2H283.3M274.7 700.5V725.4" stroke="#000000" stroke-width="4.3" stroke-opacity="0.8" stroke-linecap="butt"/>
<path d="M265.4 715.2H284M274.7 705.9V724.5" stroke="#000000" stroke-width="4.3" stroke-opacity="0.8"/>
<path d="M269.3 723.5H287.1M278.2 708.9V733.3" stroke="#000000" stroke-width="4.3" stroke-opacity="0.8" stroke-linecap="butt"/>
<path d="M268.9 723.5H287.5M278.2 714.2V732.8" stroke="#000000" stroke-width="4.3" stroke-opacity="0.8"/>
<path d="M269.7 711.9H289.6M279.6 699.5V723.3" stroke="#000000" stroke-width="4.3" stroke-opacity="0.8" stroke-linecap="butt"/>
<path d="M270.3 711.9H288.9M279.6 702.6V721.2" stroke="#000000" stroke-width="4.3" stroke-opacity="0.8"/>
<path d="M269.4 702.7H288.5M279 687.8V716.2" stroke="#000000" stroke-width="4.3" stroke-opacity="0.8" stroke-linecap="butt"/>
<path d="M269.7 702.7H288.3M279 693.4V712" stroke="#000000" stroke-width="4.3" stroke-opacity="0.8"/>
<path d="M268.2 695.7H285.4M276.8 686.4V706" stroke="#000000" stroke-width="4.3" stroke-opacity="0.8" stroke-linecap="butt"/>
<path d="M267.5 695.7H286.1M276.8 686.4V705" stroke="#000000" stroke-width="4.3" stroke-opacity="0.8"/>
<path d="M265.8 689.1H283.7M274.8 676V697.2" stroke="#000000" stroke-width="4.3" stroke-opacity="0.8" stroke-linecap="butt"/>
<path d="M265.5 689.1H284.1M274.8 679.8V698.4" stroke="#000000" stroke-width="4.3" stroke-opacity="0.8"/>
<path d="M265 686.3H282.8M273.9 672.2V700.5" stroke="#000000" stroke-width="4.3" stroke-opacity="0.8" stroke-linecap="butt"/>
<path d="M264.6 686.3H283.2M273.9 677V695.6" stroke="#000000" stroke-width="4.3" stroke-opacity="0.8"/>
<path d="M263 677.5H280.9M272 664.9V689.7" stroke="#000000" stroke-width="4.3" stroke-opacity="0.8" stroke-linecap="butt"/>
<path d="M262.7 677.5H281.3M272 668.2V686.8" stroke="#000000" stroke-width="4.3" stroke-opacity="0.8"/>
<path d="M262.5 670.4H279.9M271.2 654.4V680.2" stroke="#000000" stroke-width="4.3" stroke-opacity="0.8" stroke-linecap="butt"/>
<path d="M261.9 670.4H280.5M271.2 661.1V679.7" stroke="#000000" stroke-width="4.3" stroke-opacity="0.8"/>
<path d="M260.2 659.3H280M270.1 651.1V671.4" stroke="#000000" stroke-width="4.3" stroke-opacity="0.8" stroke-linecap="butt"/>
<path d="M260.8 659.3H279.4M270.1 650V668.6" stroke="#000000" stroke-width="4.3" stroke-opacity="0.8"/>
<path d="M259.5 652.8H279.4M269.4 640.7V663.2" stroke="#000000" stroke-width="4.3" stroke-opacity="0.8" stroke-linecap="butt"/>
<path d="M260.1 652.8H278.7M269.4 643.5V662.1" stroke="#000000" stroke-width="4.3" stroke-opacity="0.8"/>
<path d="M639 885L637 937" stroke="#000" stroke-width="6"/>
<path d="M652 915L650 1000" stroke="#000" stroke-width="6"/>
<path d="M661 888L657 975" stroke="#000" stroke-width="6"/>
<path d="M649 965L649 1011" stroke="#000" stroke-width="6"/>
<path d="M710 940L712 1010" stroke="#000" stroke-width="6"/>
<path d="M713 1000L714 1079" stroke="#000" stroke-width="6"/>
<path d="M754 1010L751 1131" stroke="#000" stroke-width="6"/>
<path d="M817 1095L817 1188" stroke="#000" stroke-width="6"/>
<path d="M861 1095L861 1185" stroke="#000" stroke-width="6"/>
<path d="M899 1130L898 1190" stroke="#000" stroke-width="6"/>
<path d="M265.6 639.5H284.2M274.9 628.5V648.8" stroke="#000000" stroke-width="4.3" stroke-opacity="0.8" stroke-linecap="butt"/>
<path d="M265.6 639.5H284.2M274.9 630.2V648.8" stroke="#000000" stroke-width="4.3" stroke-opacity="0.8"/>
<path d="M255.2 651.8H273.8M264.5 642.5V661.1" stroke="#000000" stroke-width="4.3" stroke-opacity="0.8" stroke-linecap="butt"/>
<path d="M255.2 651.8H273.8M264.5 642.5V661.1" stroke="#000000" stroke-width="4.3" stroke-opacity="0.8"/>
<path d="M254.2 668.9H272.8M263.5 659.6V678.2" stroke="#000000" stroke-width="4.3" stroke-opacity="0.8" stroke-linecap="butt"/>
<path d="M254.2 668.9H272.8M263.5 659.6V678.2" stroke="#000000" stroke-width="4.3" stroke-opacity="0.8"/>
<path d="M255.2 678.3H273.8M264.5 669V687.6" stroke="#000000" stroke-width="4.3" stroke-opacity="0.8" stroke-linecap="butt"/>
<path d="M255.2 678.3H273.8M264.5 669V687.6" stroke="#000000" stroke-width="4.3" stroke-opacity="0.8"/>
<path d="M261.8 700.1H280.4M271.1 690.8V709.4" stroke="#000000" stroke-width="4.3" stroke-opacity="0.8" stroke-linecap="butt"/>
<path d="M261.8 700.1H280.4M271.1 690.8V709.4" stroke="#000000" stroke-width="4.3" stroke-opacity="0.8"/>
<path d="M264.7 717.1H283.3M274 707.8V726.4" stroke="#000000" stroke-width="4.3" stroke-opacity="0.8" stroke-linecap="butt"/>
<path d="M264.7 717.1H283.3M274 707.8V726.4" stroke="#000000" stroke-width="4.3" stroke-opacity="0.8"/>
<path d="M265.6 724.7H284.2M274.9 715.4V734" stroke="#000000" stroke-width="4.3" stroke-opacity="0.8" stroke-linecap="butt"/>
<path d="M265.6 724.7H284.2M274.9 715.4V734" stroke="#000000" stroke-width="4.3" stroke-opacity="0.8"/>
<path d="M267.5 728H286.1M276.8 718.7V738" stroke="#000000" stroke-width="4.3" stroke-opacity="0.8" stroke-linecap="butt"/>
<path d="M267.5 728H286.1M276.8 718.7V737.3" stroke="#000000" stroke-width="4.3" stroke-opacity="0.8"/>
<path d="M337.5 740H356.1M346.8 730.7V750" stroke="#000000" stroke-width="4.3" stroke-opacity="0.8" stroke-linecap="butt"/>
<path d="M337.5 740H356.1M346.8 730.7V749.3" stroke="#000000" stroke-width="4.3" stroke-opacity="0.8"/>
<path d="M350.8 730H369.4M360.1 720.7V739.3" stroke="#000000" stroke-width="4.3" stroke-opacity="0.8" stroke-linecap="butt"/>
<path d="M350.8 730H369.4M360.1 720.7V739.3" stroke="#000000" stroke-width="4.3" stroke-opacity="0.8"/>
<path d="M371.7 725H390.3M381 715.7V734.3" stroke="#000000" stroke-width="4.3" stroke-opacity="0.8" stroke-linecap="butt"/>
<path d="M371.7 725H390.3M381 715.7V734.3" stroke="#000000" stroke-width="4.3" stroke-opacity="0.8"/>
<path d="M392.4 752.2H411M401.7 742.9V761.5" stroke="#000000" stroke-width="4.3" stroke-opacity="0.8" stroke-linecap="butt"/>
<path d="M392.4 752.2H411M401.7 742.9V761.5" stroke="#000000" stroke-width="4.3" stroke-opacity="0.8"/>
<path d="M395.3 763.5H413.9M404.6 754.2V772.8" stroke="#000000" stroke-width="4.3" stroke-opacity="0.8" stroke-linecap="butt"/>
<path d="M395.3 763.5H413.9M404.6 754.2V772.8" stroke="#000000" stroke-width="4.3" stroke-opacity="0.8"/>
<path d="M432.2 800.4H450.8M441.5 791.1V809.7" stroke="#000000" stroke-width="4.3" stroke-opacity="0.8" stroke-linecap="butt"/>
<path d="M432.2 800.4H450.8M441.5 791.1V809.7" stroke="#000000" stroke-width="4.3" stroke-opacity="0.8"/>
<path d="M464.4 838.3H483M473.7 829V850.3" stroke="#000000" stroke-width="4.3" stroke-opacity="0.8" stroke-linecap="butt"/>
<path d="M464.4 838.3H483M473.7 829V847.6" stroke="#000000" stroke-width="4.3" stroke-opacity="0.8"/>
<path d="M464.4 846.8H483M473.7 837.5V856.1" stroke="#000000" stroke-width="4.3" stroke-opacity="0.8" stroke-linecap="butt"/>
<path d="M464.4 846.8H483M473.7 837.5V856.1" stroke="#000000" stroke-width="4.3" stroke-opacity="0.8"/>
<path d="M506 844H524.6M515.3 834.7V856" stroke="#000000" stroke-width="4.3" stroke-opacity="0.8" stroke-linecap="butt"/>
<path d="M506 844H524.6M515.3 834.7V853.3" stroke="#000000" stroke-width="4.3" stroke-opacity="0.8"/>
<path d="M430.6 683H449.2M439.9 673.7V692.3" stroke="#000000" stroke-width="4.3" stroke-opacity="0.8" stroke-linecap="butt"/>
<path d="M430.6 683H449.2M439.9 673.7V692.3" stroke="#000000" stroke-width="4.3" stroke-opacity="0.8"/>
<path d="M473.6 713.6H492.2M482.9 704.3V722.9" stroke="#000000" stroke-width="4.3" stroke-opacity="0.8" stroke-linecap="butt"/>
<path d="M473.6 713.6H492.2M482.9 704.3V722.9" stroke="#000000" stroke-width="4.3" stroke-opacity="0.8"/>
<path d="M506.7 718.1H525.3M516 708.8V727.4" stroke="#000000" stroke-width="4.3" stroke-opacity="0.8" stroke-linecap="butt"/>
<path d="M506.7 718.1H525.3M516 708.8V727.4" stroke="#000000" stroke-width="4.3" stroke-opacity="0.8"/>
<path d="M463.1 817H481.7M472.4 807.7V826.3" stroke="#000000" stroke-width="4.3" stroke-opacity="0.8" stroke-linecap="butt"/>
<path d="M463.1 817H481.7M472.4 807.7V826.3" stroke="#000000" stroke-width="4.3" stroke-opacity="0.8"/>
<path d="M500.9 847H519.5M510.2 837.7V856.3" stroke="#000000" stroke-width="4.3" stroke-opacity="0.8" stroke-linecap="butt"/>
<path d="M500.9 847H519.5M510.2 837.7V856.3" stroke="#000000" stroke-width="4.3" stroke-opacity="0.8"/>
<path d="M511.3 827.5H529.9M520.6 818.2V836.8" stroke="#000000" stroke-width="4.3" stroke-opacity="0.8" stroke-linecap="butt"/>
<path d="M511.3 827.5H529.9M520.6 818.2V836.8" stroke="#000000" stroke-width="4.3" stroke-opacity="0.8"/>
<path d="M511.3 785.8H529.9M520.6 776.5V795.1" stroke="#000000" stroke-width="4.3" stroke-opacity="0.8" stroke-linecap="butt"/>
<path d="M511.3 785.8H529.9M520.6 776.5V795.1" stroke="#000000" stroke-width="4.3" stroke-opacity="0.8"/>
<path d="M511.3 776H529.9M520.6 766.7V785.3" stroke="#000000" stroke-width="4.3" stroke-opacity="0.8" stroke-linecap="butt"/>
<path d="M511.3 776H529.9M520.6 766.7V785.3" stroke="#000000" stroke-width="4.3" stroke-opacity="0.8"/>
<path d="M389.6 753.3H408.2M398.9 744V762.6" stroke="#000000" stroke-width="4.3" stroke-opacity="0.8" stroke-linecap="butt"/>
<path d="M389.6 753.3H408.2M398.9 744V762.6" stroke="#000000" stroke-width="4.3" stroke-opacity="0.8"/>
<path d="M630.7 868.4H649.3M640 857.4V878.4" stroke="#000000" stroke-width="4.3" stroke-opacity="0.8" stroke-linecap="butt"/>
<path d="M630.7 868.4H649.3M640 859.1V877.7" stroke="#000000" stroke-width="4.3" stroke-opacity="0.8"/>
<path d="M629.4 895H648M638.7 883V904.3" stroke="#000000" stroke-width="4.3" stroke-opacity="0.8" stroke-linecap="butt"/>
<path d="M629.4 895H648M638.7 885.7V904.3" stroke="#000000" stroke-width="4.3" stroke-opacity="0.8"/>
<path d="M651.1 893.3H669.7M660.4 881.3V902.6" stroke="#000000" stroke-width="4.3" stroke-opacity="0.8" stroke-linecap="butt"/>
<path d="M651.1 893.3H669.7M660.4 884V902.6" stroke="#000000" stroke-width="4.3" stroke-opacity="0.8"/>
<path d="M627.1 911.9H645.7M636.4 902.6V921.2" stroke="#000000" stroke-width="4.3" stroke-opacity="0.8" stroke-linecap="butt"/>
<path d="M627.1 911.9H645.7M636.4 902.6V921.2" stroke="#000000" stroke-width="4.3" stroke-opacity="0.8"/>
<path d="M627.1 917.2H645.7M636.4 907.9V926.5" stroke="#000000" stroke-width="4.3" stroke-opacity="0.8" stroke-linecap="butt"/>
<path d="M627.1 917.2H645.7M636.4 907.9V926.5" stroke="#000000" stroke-width="4.3" stroke-opacity="0.8"/>
<path d="M627.1 921.7H645.7M636.4 912.4V936.7" stroke="#000000" stroke-width="4.3" stroke-opacity="0.8" stroke-linecap="butt"/>
<path d="M627.1 921.7H645.7M636.4 912.4V931" stroke="#000000" stroke-width="4.3" stroke-opacity="0.8"/>
<path d="M652.8 910.1H671.4M662.1 900.8V919.4" stroke="#000000" stroke-width="4.3" stroke-opacity="0.8" stroke-linecap="butt"/>
<path d="M652.8 910.1H671.4M662.1 900.8V919.4" stroke="#000000" stroke-width="4.3" stroke-opacity="0.8"/>
<path d="M654.6 926.1H673.2M663.9 916.8V935.4" stroke="#000000" stroke-width="4.3" stroke-opacity="0.8" stroke-linecap="butt"/>
<path d="M654.6 926.1H673.2M663.9 916.8V935.4" stroke="#000000" stroke-width="4.3" stroke-opacity="0.8"/>
<path d="M653.7 930.5H672.3M663 921.2V939.8" stroke="#000000" stroke-width="4.3" stroke-opacity="0.8" stroke-linecap="butt"/>
<path d="M653.7 930.5H672.3M663 921.2V939.8" stroke="#000000" stroke-width="4.3" stroke-opacity="0.8"/>
<path d="M632.4 948.3H651M641.7 939V957.6" stroke="#000000" stroke-width="4.3" stroke-opacity="0.8" stroke-linecap="butt"/>
<path d="M632.4 948.3H651M641.7 939V957.6" stroke="#000000" stroke-width="4.3" stroke-opacity="0.8"/>
<path d="M649.3 947.4H667.9M658.6 938.1V956.7" stroke="#000000" stroke-width="4.3" stroke-opacity="0.8" stroke-linecap="butt"/>
<path d="M649.3 947.4H667.9M658.6 938.1V956.7" stroke="#000000" stroke-width="4.3" stroke-opacity="0.8"/>
<path d="M634.2 973.1H652.8M643.5 963.8V982.4" stroke="#000000" stroke-width="4.3" stroke-opacity="0.8" stroke-linecap="butt"/>
<path d="M634.2 973.1H652.8M643.5 963.8V982.4" stroke="#000000" stroke-width="4.3" stroke-opacity="0.8"/>
<path d="M638.6 980.2H657.2M647.9 970.9V989.5" stroke="#000000" stroke-width="4.3" stroke-opacity="0.8" stroke-linecap="butt"/>
<path d="M638.6 980.2H657.2M647.9 970.9V989.5" stroke="#000000" stroke-width="4.3" stroke-opacity="0.8"/>
<path d="M650.2 966.9H668.8M659.5 957.6V976.2" stroke="#000000" stroke-width="4.3" stroke-opacity="0.8" stroke-linecap="butt"/>
<path d="M650.2 966.9H668.8M659.5 957.6V976.2" stroke="#000000" stroke-width="4.3" stroke-opacity="0.8"/>
<path d="M640.1 996.2H658.7M649.4 986.9V1011.2" stroke="#000000" stroke-width="4.3" stroke-opacity="0.8" stroke-linecap="butt"/>
<path d="M640.1 996.2H658.7M649.4 986.9V1005.5" stroke="#000000" stroke-width="4.3" stroke-opacity="0.8"/>
<path d="M702.5 947.4H721.1M711.8 936.4V956.7" stroke="#000000" stroke-width="4.3" stroke-opacity="0.8" stroke-linecap="butt"/>
<path d="M702.5 947.4H721.1M711.8 938.1V956.7" stroke="#000000" stroke-width="4.3" stroke-opacity="0.8"/>
<path d="M699 964.3H717.6M708.3 955V973.6" stroke="#000000" stroke-width="4.3" stroke-opacity="0.8" stroke-linecap="butt"/>
<path d="M699 964.3H717.6M708.3 955V973.6" stroke="#000000" stroke-width="4.3" stroke-opacity="0.8"/>
<path d="M702.5 974H721.1M711.8 964.7V983.3" stroke="#000000" stroke-width="4.3" stroke-opacity="0.8" stroke-linecap="butt"/>
<path d="M702.5 974H721.1M711.8 964.7V983.3" stroke="#000000" stroke-width="4.3" stroke-opacity="0.8"/>
<path d="M699 992.7H717.6M708.3 983.4V1002" stroke="#000000" stroke-width="4.3" stroke-opacity="0.8" stroke-linecap="butt"/>
<path d="M699 992.7H717.6M708.3 983.4V1002" stroke="#000000" stroke-width="4.3" stroke-opacity="0.8"/>
<path d="M699 999.8H717.6M708.3 990.5V1009.1" stroke="#000000" stroke-width="4.3" stroke-opacity="0.8" stroke-linecap="butt"/>
<path d="M699 999.8H717.6M708.3 990.5V1009.1" stroke="#000000" stroke-width="4.3" stroke-opacity="0.8"/>
<path d="M703.4 1015.8H722M712.7 1006.5V1025.1" stroke="#000000" stroke-width="4.3" stroke-opacity="0.8" stroke-linecap="butt"/>
<path d="M703.4 1015.8H722M712.7 1006.5V1025.1" stroke="#000000" stroke-width="4.3" stroke-opacity="0.8"/>
<path d="M711.4 1022H730M720.7 1012.7V1031.3" stroke="#000000" stroke-width="4.3" stroke-opacity="0.8" stroke-linecap="butt"/>
<path d="M711.4 1022H730M720.7 1012.7V1031.3" stroke="#000000" stroke-width="4.3" stroke-opacity="0.8"/>
<path d="M702.5 1024.6H721.1M711.8 1015.3V1033.9" stroke="#000000" stroke-width="4.3" stroke-opacity="0.8" stroke-linecap="butt"/>
<path d="M702.5 1024.6H721.1M711.8 1015.3V1033.9" stroke="#000000" stroke-width="4.3" stroke-opacity="0.8"/>
<path d="M704.3 1033.5H722.9M713.6 1024.2V1042.8" stroke="#000000" stroke-width="4.3" stroke-opacity="0.8" stroke-linecap="butt"/>
<path d="M704.3 1033.5H722.9M713.6 1024.2V1042.8" stroke="#000000" stroke-width="4.3" stroke-opacity="0.8"/>
<path d="M706.1 1040.6H724.7M715.4 1031.3V1049.9" stroke="#000000" stroke-width="4.3" stroke-opacity="0.8" stroke-linecap="butt"/>
<path d="M706.1 1040.6H724.7M715.4 1031.3V1049.9" stroke="#000000" stroke-width="4.3" stroke-opacity="0.8"/>
<path d="M702.5 1049.5H721.1M711.8 1040.2V1058.8" stroke="#000000" stroke-width="4.3" stroke-opacity="0.8" stroke-linecap="butt"/>
<path d="M702.5 1049.5H721.1M711.8 1040.2V1058.8" stroke="#000000" stroke-width="4.3" stroke-opacity="0.8"/>
<path d="M704.3 1064.6H722.9M713.6 1055.3V1079.6" stroke="#000000" stroke-width="4.3" stroke-opacity="0.8" stroke-linecap="butt"/>
<path d="M704.3 1064.6H722.9M713.6 1055.3V1073.9" stroke="#000000" stroke-width="4.3" stroke-opacity="0.8"/>
<path d="M742.5 1021.1H761.1M751.8 1009.5V1030.4" stroke="#000000" stroke-width="4.3" stroke-opacity="0.8" stroke-linecap="butt"/>
<path d="M742.5 1021.1H761.1M751.8 1011.8V1030.4" stroke="#000000" stroke-width="4.3" stroke-opacity="0.8"/>
<path d="M746 1039.7H764.6M755.3 1030.4V1049" stroke="#000000" stroke-width="4.3" stroke-opacity="0.8" stroke-linecap="butt"/>
<path d="M746 1039.7H764.6M755.3 1030.4V1049" stroke="#000000" stroke-width="4.3" stroke-opacity="0.8"/>
<path d="M744.3 1048.6H762.9M753.6 1039.3V1057.9" stroke="#000000" stroke-width="4.3" stroke-opacity="0.8" stroke-linecap="butt"/>
<path d="M744.3 1048.6H762.9M753.6 1039.3V1057.9" stroke="#000000" stroke-width="4.3" stroke-opacity="0.8"/>
<path d="M745.1 1054.8H763.7M754.4 1045.5V1064.1" stroke="#000000" stroke-width="4.3" stroke-opacity="0.8" stroke-linecap="butt"/>
<path d="M745.1 1054.8H763.7M754.4 1045.5V1064.1" stroke="#000000" stroke-width="4.3" stroke-opacity="0.8"/>
<path d="M743.4 1065.5H762M752.7 1056.2V1074.8" stroke="#000000" stroke-width="4.3" stroke-opacity="0.8" stroke-linecap="butt"/>
<path d="M743.4 1065.5H762M752.7 1056.2V1074.8" stroke="#000000" stroke-width="4.3" stroke-opacity="0.8"/>
<path d="M745.1 1073.4H763.7M754.4 1064.1V1082.7" stroke="#000000" stroke-width="4.3" stroke-opacity="0.8" stroke-linecap="butt"/>
<path d="M745.1 1073.4H763.7M754.4 1064.1V1082.7" stroke="#000000" stroke-width="4.3" stroke-opacity="0.8"/>
<path d="M744.3 1085.9H762.9M753.6 1076.6V1095.2" stroke="#000000" stroke-width="4.3" stroke-opacity="0.8" stroke-linecap="butt"/>
<path d="M744.3 1085.9H762.9M753.6 1076.6V1095.2" stroke="#000000" stroke-width="4.3" stroke-opacity="0.8"/>
<path d="M744.3 1094.8H762.9M753.6 1085.5V1104.1" stroke="#000000" stroke-width="4.3" stroke-opacity="0.8" stroke-linecap="butt"/>
<path d="M744.3 1094.8H762.9M753.6 1085.5V1104.1" stroke="#000000" stroke-width="4.3" stroke-opacity="0.8"/>
<path d="M741.6 1105.4H760.2M750.9 1096.1V1114.7" stroke="#000000" stroke-width="4.3" stroke-opacity="0.8" stroke-linecap="butt"/>
<path d="M741.6 1105.4H760.2M750.9 1096.1V1114.7" stroke="#000000" stroke-width="4.3" stroke-opacity="0.8"/>
<path d="M740.7 1116.1H759.3M750 1106.8V1131.1" stroke="#000000" stroke-width="4.3" stroke-opacity="0.8" stroke-linecap="butt"/>
<path d="M740.7 1116.1H759.3M750 1106.8V1125.4" stroke="#000000" stroke-width="4.3" stroke-opacity="0.8"/>
<path d="M830.5 1071H849.1M839.8 1059.5V1086" stroke="#000000" stroke-width="4.3" stroke-opacity="0.8" stroke-linecap="butt"/>
<path d="M830.5 1071H849.1M839.8 1061.7V1080.3" stroke="#000000" stroke-width="4.3" stroke-opacity="0.8"/>
<path d="M806.9 1102.1H825.5M816.2 1091.1V1111.4" stroke="#000000" stroke-width="4.3" stroke-opacity="0.8" stroke-linecap="butt"/>
<path d="M806.9 1102.1H825.5M816.2 1092.8V1111.4" stroke="#000000" stroke-width="4.3" stroke-opacity="0.8"/>
<path d="M807.1 1119.3H825.7M816.4 1110V1128.6" stroke="#000000" stroke-width="4.3" stroke-opacity="0.8" stroke-linecap="butt"/>
<path d="M807.1 1119.3H825.7M816.4 1110V1128.6" stroke="#000000" stroke-width="4.3" stroke-opacity="0.8"/>
<path d="M807.7 1132.3H826.3M817 1123V1141.6" stroke="#000000" stroke-width="4.3" stroke-opacity="0.8" stroke-linecap="butt"/>
<path d="M807.7 1132.3H826.3M817 1123V1141.6" stroke="#000000" stroke-width="4.3" stroke-opacity="0.8"/>
<path d="M807.7 1141.8H826.3M817 1132.5V1151.1" stroke="#000000" stroke-width="4.3" stroke-opacity="0.8" stroke-linecap="butt"/>
<path d="M807.7 1141.8H826.3M817 1132.5V1151.1" stroke="#000000" stroke-width="4.3" stroke-opacity="0.8"/>
<path d="M808.3 1167.6H826.9M817.6 1158.3V1176.9" stroke="#000000" stroke-width="4.3" stroke-opacity="0.8" stroke-linecap="butt"/>
<path d="M808.3 1167.6H826.9M817.6 1158.3V1176.9" stroke="#000000" stroke-width="4.3" stroke-opacity="0.8"/>
<path d="M807.7 1173.1H826.3M817 1163.8V1188.1" stroke="#000000" stroke-width="4.3" stroke-opacity="0.8" stroke-linecap="butt"/>
<path d="M807.7 1173.1H826.3M817 1163.8V1182.4" stroke="#000000" stroke-width="4.3" stroke-opacity="0.8"/>
<path d="M821.3 1125.2H839.9M830.6 1112.2V1146.2" stroke="#000000" stroke-width="4.3" stroke-opacity="0.8" stroke-linecap="butt"/>
<path d="M821.3 1125.2H839.9M830.6 1115.9V1134.5" stroke="#000000" stroke-width="4.3" stroke-opacity="0.8"/>
<path d="M830.2 1125.2H848.8M839.5 1111.2V1149.2" stroke="#000000" stroke-width="4.3" stroke-opacity="0.8" stroke-linecap="butt"/>
<path d="M830.2 1125.2H848.8M839.5 1115.9V1134.5" stroke="#000000" stroke-width="4.3" stroke-opacity="0.8"/>
<path d="M830.2 1133.5H848.8M839.5 1124.2V1142.8" stroke="#000000" stroke-width="4.3" stroke-opacity="0.8" stroke-linecap="butt"/>
<path d="M830.2 1133.5H848.8M839.5 1124.2V1142.8" stroke="#000000" stroke-width="4.3" stroke-opacity="0.8"/>
<path d="M842 1122.8H860.6M851.3 1102.8V1155.8" stroke="#000000" stroke-width="4.3" stroke-opacity="0.8" stroke-linecap="butt"/>
<path d="M842 1122.8H860.6M851.3 1113.5V1132.1" stroke="#000000" stroke-width="4.3" stroke-opacity="0.8"/>
<path d="M852.1 1101H870.7M861.4 1091V1110.3" stroke="#000000" stroke-width="4.3" stroke-opacity="0.8" stroke-linecap="butt"/>
<path d="M852.1 1101H870.7M861.4 1091.7V1110.3" stroke="#000000" stroke-width="4.3" stroke-opacity="0.8"/>
<path d="M852.1 1111.6H870.7M861.4 1102.3V1120.9" stroke="#000000" stroke-width="4.3" stroke-opacity="0.8" stroke-linecap="butt"/>
<path d="M852.1 1111.6H870.7M861.4 1102.3V1120.9" stroke="#000000" stroke-width="4.3" stroke-opacity="0.8"/>
<path d="M852.1 1129.9H870.7M861.4 1120.6V1139.2" stroke="#000000" stroke-width="4.3" stroke-opacity="0.8" stroke-linecap="butt"/>
<path d="M852.1 1129.9H870.7M861.4 1120.6V1139.2" stroke="#000000" stroke-width="4.3" stroke-opacity="0.8"/>
<path d="M850.9 1142.4H869.5M860.2 1133.1V1151.7" stroke="#000000" stroke-width="4.3" stroke-opacity="0.8" stroke-linecap="butt"/>
<path d="M850.9 1142.4H869.5M860.2 1133.1V1151.7" stroke="#000000" stroke-width="4.3" stroke-opacity="0.8"/>
<path d="M851.5 1149.5H870.1M860.8 1140.2V1158.8" stroke="#000000" stroke-width="4.3" stroke-opacity="0.8" stroke-linecap="butt"/>
<path d="M851.5 1149.5H870.1M860.8 1140.2V1158.8" stroke="#000000" stroke-width="4.3" stroke-opacity="0.8"/>
<path d="M850.9 1165.1H869.5M860.2 1155.8V1180.1" stroke="#000000" stroke-width="4.3" stroke-opacity="0.8" stroke-linecap="butt"/>
<path d="M850.9 1165.1H869.5M860.2 1155.8V1174.4" stroke="#000000" stroke-width="4.3" stroke-opacity="0.8"/>
<path d="M842 1111H860.6M851.3 1101.7V1120.3" stroke="#000000" stroke-width="4.3" stroke-opacity="0.8" stroke-linecap="butt"/>
<path d="M842 1111H860.6M851.3 1101.7V1120.3" stroke="#000000" stroke-width="4.3" stroke-opacity="0.8"/>
<path d="M839 1143H857.6M848.3 1133.7V1152.3" stroke="#000000" stroke-width="4.3" stroke-opacity="0.8" stroke-linecap="butt"/>
<path d="M839 1143H857.6M848.3 1133.7V1152.3" stroke="#000000" stroke-width="4.3" stroke-opacity="0.8"/>
<path d="M891.1 1142H909.7M900.4 1129.4V1151.3" stroke="#000000" stroke-width="4.3" stroke-opacity="0.8" stroke-linecap="butt"/>
<path d="M891.1 1142H909.7M900.4 1132.7V1151.3" stroke="#000000" stroke-width="4.3" stroke-opacity="0.8"/>
<path d="M888.7 1148.9H907.3M898 1139.6V1158.2" stroke="#000000" stroke-width="4.3" stroke-opacity="0.8" stroke-linecap="butt"/>
<path d="M888.7 1148.9H907.3M898 1139.6V1158.2" stroke="#000000" stroke-width="4.3" stroke-opacity="0.8"/>
<path d="M889.3 1173.7H907.9M898.6 1164.4V1183" stroke="#000000" stroke-width="4.3" stroke-opacity="0.8" stroke-linecap="butt"/>
<path d="M889.3 1173.7H907.9M898.6 1164.4V1183" stroke="#000000" stroke-width="4.3" stroke-opacity="0.8"/>
<path d="M888.7 1184.4H907.3M898 1175.1V1196.4" stroke="#000000" stroke-width="4.3" stroke-opacity="0.8" stroke-linecap="butt"/>
<path d="M888.7 1184.4H907.3M898 1175.1V1193.7" stroke="#000000" stroke-width="4.3" stroke-opacity="0.8"/>
<path d="M868 1208H886.6M877.3 1195.6V1217.3" stroke="#000000" stroke-width="4.3" stroke-opacity="0.8" stroke-linecap="butt"/>
<path d="M868 1208H886.6M877.3 1198.7V1217.3" stroke="#000000" stroke-width="4.3" stroke-opacity="0.8"/>
<path d="M868 1215.1H886.6M877.3 1205.8V1233.1" stroke="#000000" stroke-width="4.3" stroke-opacity="0.8" stroke-linecap="butt"/>
<path d="M868 1215.1H886.6M877.3 1205.8V1224.4" stroke="#000000" stroke-width="4.3" stroke-opacity="0.8"/>
<path d="M882.2 1215.1H900.8M891.5 1203.3V1224.4" stroke="#000000" stroke-width="4.3" stroke-opacity="0.8" stroke-linecap="butt"/>
<path d="M882.2 1215.1H900.8M891.5 1205.8V1224.4" stroke="#000000" stroke-width="4.3" stroke-opacity="0.8"/>
<path d="M882.2 1220.5H900.8M891.5 1211.2V1229.8" stroke="#000000" stroke-width="4.3" stroke-opacity="0.8" stroke-linecap="butt"/>
<path d="M882.2 1220.5H900.8M891.5 1211.2V1229.8" stroke="#000000" stroke-width="4.3" stroke-opacity="0.8"/>
<path d="M882.8 1231.1H901.4M892.1 1221.8V1243.1" stroke="#000000" stroke-width="4.3" stroke-opacity="0.8" stroke-linecap="butt"/>
<path d="M882.8 1231.1H901.4M892.1 1221.8V1240.4" stroke="#000000" stroke-width="4.3" stroke-opacity="0.8"/>
<path d="M979 1241.2H997.6M988.3 1228.1V1257.8" stroke="#000000" stroke-width="4.3" stroke-opacity="0.8" stroke-linecap="butt"/>
<path d="M979 1241.2H997.6M988.3 1231.9V1250.5" stroke="#000000" stroke-width="4.3" stroke-opacity="0.8"/>
<path d="M987.6 1261.1H1006.2M996.9 1250.3V1273.8" stroke="#000000" stroke-width="4.3" stroke-opacity="0.8" stroke-linecap="butt"/>
<path d="M987.6 1261.1H1006.2M996.9 1251.8V1270.4" stroke="#000000" stroke-width="4.3" stroke-opacity="0.8"/>
<path d="M1027.6 1277.6H1051M1039.3 1268.3V1286.9" stroke="#000000" stroke-width="4.3" stroke-opacity="0.8" stroke-linecap="butt"/>
<path d="M1030 1277.6H1048.6M1039.3 1268.3V1286.9" stroke="#000000" stroke-width="4.3" stroke-opacity="0.8"/>
<path d="M956.6 1284.7H975.2M965.9 1273.5V1298.6" stroke="#000000" stroke-width="4.3" stroke-opacity="0.8" stroke-linecap="butt"/>
<path d="M956.6 1284.7H975.2M965.9 1275.4V1294" stroke="#000000" stroke-width="4.3" stroke-opacity="0.8"/>
<path d="M942.8 1303.1H961.4M952.1 1290V1320.2" stroke="#000000" stroke-width="4.3" stroke-opacity="0.8" stroke-linecap="butt"/>
<path d="M942.8 1303.1H961.4M952.1 1293.8V1312.4" stroke="#000000" stroke-width="4.3" stroke-opacity="0.8"/>
<path d="M992.3 1293.3H1010.9M1001.6 1280.9V1309.6" stroke="#000000" stroke-width="4.3" stroke-opacity="0.8" stroke-linecap="butt"/>
<path d="M992.3 1293.3H1010.9M1001.6 1284V1302.6" stroke="#000000" stroke-width="4.3" stroke-opacity="0.8"/>
<path d="M931.7 1319.2H950.3M941 1307.1V1333.8" stroke="#000000" stroke-width="4.3" stroke-opacity="0.8" stroke-linecap="butt"/>
<path d="M931.7 1319.2H950.3M941 1309.9V1328.5" stroke="#000000" stroke-width="4.3" stroke-opacity="0.8"/>
<path d="M940.2 1346.3H958.8M949.5 1332.2V1364.9" stroke="#000000" stroke-width="4.3" stroke-opacity="0.8" stroke-linecap="butt"/>
<path d="M940.2 1346.3H958.8M949.5 1337V1355.6" stroke="#000000" stroke-width="4.3" stroke-opacity="0.8"/>
<path d="M1193.4 1454.3H1229.8M1220.6 1432.2V1489.3" stroke="#000000" stroke-width="4.3" stroke-opacity="0.8" stroke-linecap="butt"/>
<path d="M1211.3 1454.3H1229.9M1220.6 1445V1463.6" stroke="#000000" stroke-width="4.3" stroke-opacity="0.8"/>
<path d="M432 650.7H451.6M441.3 641.4V660" stroke="#5048f0" stroke-width="4.3" stroke-linecap="butt"/>
<path d="M456.2 676H474.8M465.5 663V689" stroke="#5048f0" stroke-width="4.3" stroke-linecap="butt"/>
<path d="M645.4 792.6H664M654.7 778.4V806.8" stroke="#5048f0" stroke-width="4.3" stroke-linecap="butt"/>
<path d="M648.8 835.8H667.4M658.1 826.5V845.1" stroke="#5048f0" stroke-width="4.3" stroke-linecap="butt"/>
<path d="M343.1 608.4H361.7M352.4 599.1V617.7" stroke="#5a30f2" stroke-width="4.3" stroke-linecap="butt"/>
<path d="M402 662.7H420.6M411.3 653.4V672" stroke="#5a30f2" stroke-width="4.3" stroke-linecap="butt"/>
<path d="M405.8 679.3H436.1M415.1 670V688.6" stroke="#5a30f2" stroke-width="5.5" stroke-linecap="butt"/>
<path d="M436.4 696.6H455M445.7 687.3V705.9" stroke="#5a30f2" stroke-width="4.3" stroke-linecap="butt"/>
<path d="M436.4 706.4H455M445.7 697.1V715.7" stroke="#5a30f2" stroke-width="4.3" stroke-linecap="butt"/>
<path d="M453.4 714.2H472M462.7 704.9V723.5" stroke="#5a30f2" stroke-width="4.3" stroke-linecap="butt"/>
<path d="M459.2 711H477.8M468.5 701.7V720.3" stroke="#5a30f2" stroke-width="4.3" stroke-linecap="butt"/>
<path d="M476.8 725.3H495.4M486.1 716V734.6" stroke="#5a30f2" stroke-width="4.3" stroke-linecap="butt"/>
<path d="M495.7 720.7H514.3M505 703.9V738.7" stroke="#5a30f2" stroke-width="4.3" stroke-linecap="butt"/>
<path d="M498.9 735H517.5M508.2 725.7V744.3" stroke="#5a30f2" stroke-width="4.3" stroke-linecap="butt"/>
<path d="M482.7 744.2H501.3M492 734.9V753.5" stroke="#5a30f2" stroke-width="4.3" stroke-linecap="butt"/>
<path d="M490.5 744.2H509.1M499.8 734.9V753.5" stroke="#5a30f2" stroke-width="4.3" stroke-linecap="butt"/>
<path d="M500.2 765.6H518.8M509.5 756.3V774.9" stroke="#5a30f2" stroke-width="4.3" stroke-linecap="butt"/>
<path d="M513.3 761.7H531.9M522.6 752.4V774.7" stroke="#5a30f2" stroke-width="4.3" stroke-linecap="butt"/>
<path d="M478.7 725H497.3M488 715.7V734.3" stroke="#5a30f2" stroke-width="4.3" stroke-linecap="butt"/>
<path d="M484.1 743.7H502.7M493.4 734.4V753" stroke="#5a30f2" stroke-width="4.3" stroke-linecap="butt"/>
<path d="M513.5 761.8H532.1M522.8 752.5V771.1" stroke="#5a30f2" stroke-width="4.3" stroke-linecap="butt"/>
<path d="M500.7 765.1H519.3M510 755.8V774.4" stroke="#5a30f2" stroke-width="4.3" stroke-linecap="butt"/>
<path d="M558 755.9H576.6M567.3 744.9V766.9" stroke="#5a30f2" stroke-width="4.3" stroke-linecap="butt"/>
<path d="M549.7 789.9H568.3M559 779V800.8" stroke="#5a30f2" stroke-width="4.3" stroke-linecap="butt"/>
<path d="M565.3 806.9H583.9M574.6 795.9V817.9" stroke="#5a30f2" stroke-width="4.3" stroke-linecap="butt"/>
<path d="M586.4 784.3H605M595.7 773.3V795.3" stroke="#5a30f2" stroke-width="4.3" stroke-linecap="butt"/>
<path d="M597.3 801.3H615.9M606.6 790.3V812.3" stroke="#5a30f2" stroke-width="4.3" stroke-linecap="butt"/>
<path d="M592 846.4H610.6M601.3 827.5V874.2" stroke="#5a30f2" stroke-width="4.3" stroke-linecap="butt"/>
<path d="M642.1 826.9H660.7M651.4 813.5V833.6" stroke="#5a30f2" stroke-width="4.3" stroke-linecap="butt"/>
<path d="M450.1 782.6H468.7M459.4 773.3V791.9" stroke="#7412ee" stroke-width="4.3" stroke-linecap="butt"/>
<path d="M452.1 792.3H470.7M461.4 781.3V810.3" stroke="#7412ee" stroke-width="4.3" stroke-linecap="butt"/>
<path d="M498.9 791H517.5M508.2 781.7V800.3" stroke="#7412ee" stroke-width="4.3" stroke-linecap="butt"/>
<path d="M638.8 839.7H657.4M648.1 827.7V855.3" stroke="#7412ee" stroke-width="4.3" stroke-linecap="butt"/>
<path d="M278.4 589.9H360" stroke="#5a3cf0" stroke-width="6.5" stroke-linecap="round"/>
<path d="M329.4 582.5V597.3" stroke="#5a3cf0" stroke-width="5.5" stroke-linecap="round"/>
<path d="M803.1 726.2H821.7M812.4 711.1V745.7" stroke="#e0c878" stroke-width="4.3" stroke-linecap="butt"/>
<path d="M791.4 793.9H810M800.7 783.5V798.9" stroke="#e0c878" stroke-width="4.3" stroke-linecap="butt"/>
<path d="M791.4 799.1H810M800.7 789.6V811.4" stroke="#e8302a" stroke-width="4.3" stroke-linecap="butt"/>
<path d="M828.9 1541.8V389" stroke="#808080" stroke-width="4.2" stroke-dasharray="28.7 14.27 8.5 14.27"/>
</g>
<path d="M235.7 89.5v13.2M235.7 389v-13.2M235.7 389v13.2M235.7 1541.8v-13.2M249.8 89.5v13.2M249.8 389v-13.2M249.8 389v13.2M249.8 1541.8v-13.2M262 89.5v13.2M262 389v-13.2M262 389v13.2M262 1541.8v-13.2M272.8 89.5v13.2M272.8 389v-13.2M272.8 389v13.2M272.8 1541.8v-13.2M282.4 89.5v26.4M282.4 389v-26.4M282.4 389v26.4M282.4 1541.8v-26.4M345.8 89.5v13.2M345.8 389v-13.2M345.8 389v13.2M345.8 1541.8v-13.2M382.8 89.5v13.2M382.8 389v-13.2M382.8 389v13.2M382.8 1541.8v-13.2M409.1 89.5v13.2M409.1 389v-13.2M409.1 389v13.2M409.1 1541.8v-13.2M429.5 89.5v13.2M429.5 389v-13.2M429.5 389v13.2M429.5 1541.8v-13.2M446.2 89.5v13.2M446.2 389v-13.2M446.2 389v13.2M446.2 1541.8v-13.2M460.3 89.5v13.2M460.3 389v-13.2M460.3 389v13.2M460.3 1541.8v-13.2M472.5 89.5v13.2M472.5 389v-13.2M472.5 389v13.2M472.5 1541.8v-13.2M483.2 89.5v13.2M483.2 389v-13.2M483.2 389v13.2M483.2 1541.8v-13.2M492.8 89.5v26.4M492.8 389v-26.4M492.8 389v26.4M492.8 1541.8v-26.4M556.2 89.5v13.2M556.2 389v-13.2M556.2 389v13.2M556.2 1541.8v-13.2M593.3 89.5v13.2M593.3 389v-13.2M593.3 389v13.2M593.3 1541.8v-13.2M619.6 89.5v13.2M619.6 389v-13.2M619.6 389v13.2M619.6 1541.8v-13.2M639.9 89.5v13.2M639.9 389v-13.2M639.9 389v13.2M639.9 1541.8v-13.2M656.6 89.5v13.2M656.6 389v-13.2M656.6 389v13.2M656.6 1541.8v-13.2M670.7 89.5v13.2M670.7 389v-13.2M670.7 389v13.2M670.7 1541.8v-13.2M682.9 89.5v13.2M682.9 389v-13.2M682.9 389v13.2M682.9 1541.8v-13.2M693.7 89.5v13.2M693.7 389v-13.2M693.7 389v13.2M693.7 1541.8v-13.2M703.3 89.5v26.4M703.3 389v-26.4M703.3 389v26.4M703.3 1541.8v-26.4M766.7 89.5v13.2M766.7 389v-13.2M766.7 389v13.2M766.7 1541.8v-13.2M803.7 89.5v13.2M803.7 389v-13.2M803.7 389v13.2M803.7 1541.8v-13.2M830 89.5v13.2M830 389v-13.2M830 389v13.2M830 1541.8v-13.2M850.4 89.5v13.2M850.4 389v-13.2M850.4 389v13.2M850.4 1541.8v-13.2M867.1 89.5v13.2M867.1 389v-13.2M867.1 389v13.2M867.1 1541.8v-13.2M881.2 89.5v13.2M881.2 389v-13.2M881.2 389v13.2M881.2 1541.8v-13.2M893.4 89.5v13.2M893.4 389v-13.2M893.4 389v13.2M893.4 1541.8v-13.2M904.1 89.5v13.2M904.1 389v-13.2M904.1 389v13.2M904.1 1541.8v-13.2M913.7 89.5v26.4M913.7 389v-26.4M913.7 389v26.4M913.7 1541.8v-26.4M977.1 89.5v13.2M977.1 389v-13.2M977.1 389v13.2M977.1 1541.8v-13.2M1014.2 89.5v13.2M1014.2 389v-13.2M1014.2 389v13.2M1014.2 1541.8v-13.2M1040.5 89.5v13.2M1040.5 389v-13.2M1040.5 389v13.2M1040.5 1541.8v-13.2M1060.8 89.5v13.2M1060.8 389v-13.2M1060.8 389v13.2M1060.8 1541.8v-13.2M1077.5 89.5v13.2M1077.5 389v-13.2M1077.5 389v13.2M1077.5 1541.8v-13.2M1091.6 89.5v13.2M1091.6 389v-13.2M1091.6 389v13.2M1091.6 1541.8v-13.2M1103.8 89.5v13.2M1103.8 389v-13.2M1103.8 389v13.2M1103.8 1541.8v-13.2M1114.6 89.5v13.2M1114.6 389v-13.2M1114.6 389v13.2M1114.6 1541.8v-13.2M1124.2 89.5v26.4M1124.2 389v-26.4M1124.2 389v26.4M1124.2 1541.8v-26.4M1187.6 89.5v13.2M1187.6 389v-13.2M1187.6 389v13.2M1187.6 1541.8v-13.2M1224.6 89.5v13.2M1224.6 389v-13.2M1224.6 389v13.2M1224.6 1541.8v-13.2M1250.9 89.5v13.2M1250.9 389v-13.2M1250.9 389v13.2M1250.9 1541.8v-13.2M1271.3 89.5v13.2M1271.3 389v-13.2M1271.3 389v13.2M1271.3 1541.8v-13.2M221.6 372.3h13.2M1276.3 372.3h-13.2M221.6 342.6h26.4M1276.3 342.6h-26.4M221.6 312.9h13.2M1276.3 312.9h-13.2M221.6 283.2h13.2M1276.3 283.2h-13.2M221.6 253.4h13.2M1276.3 253.4h-13.2M221.6 223.7h13.2M1276.3 223.7h-13.2M221.6 194h26.4M1276.3 194h-26.4M221.6 164.3h13.2M1276.3 164.3h-13.2M221.6 134.6h13.2M1276.3 134.6h-13.2M221.6 104.8h13.2M1276.3 104.8h-13.2M221.6 1524.8h13.2M1276.3 1524.8h-13.2M221.6 1507.2h13.2M1276.3 1507.2h-13.2M221.6 1493.5h13.2M1276.3 1493.5h-13.2M221.6 1482.3h13.2M1276.3 1482.3h-13.2M221.6 1472.8h13.2M1276.3 1472.8h-13.2M221.6 1464.6h13.2M1276.3 1464.6h-13.2M221.6 1457.4h13.2M1276.3 1457.4h-13.2M221.6 1450.9h26.4M1276.3 1450.9h-26.4M221.6 1408.4h13.2M1276.3 1408.4h-13.2M221.6 1383.6h13.2M1276.3 1383.6h-13.2M221.6 1365.9h13.2M1276.3 1365.9h-13.2M221.6 1352.2h13.2M1276.3 1352.2h-13.2M221.6 1341h13.2M1276.3 1341h-13.2M221.6 1331.6h13.2M1276.3 1331.6h-13.2M221.6 1323.4h13.2M1276.3 1323.4h-13.2M221.6 1316.2h13.2M1276.3 1316.2h-13.2M221.6 1309.7h26.4M1276.3 1309.7h-26.4M221.6 1267.2h13.2M1276.3 1267.2h-13.2M221.6 1242.3h13.2M1276.3 1242.3h-13.2M221.6 1224.6h13.2M1276.3 1224.6h-13.2M221.6 1211h13.2M1276.3 1211h-13.2M221.6 1199.8h13.2M1276.3 1199.8h-13.2M221.6 1190.3h13.2M1276.3 1190.3h-13.2M221.6 1182.1h13.2M1276.3 1182.1h-13.2M221.6 1174.9h13.2M1276.3 1174.9h-13.2M221.6 1168.4h26.4M1276.3 1168.4h-26.4M221.6 1125.9h13.2M1276.3 1125.9h-13.2M221.6 1101h13.2M1276.3 1101h-13.2M221.6 1083.4h13.2M1276.3 1083.4h-13.2M221.6 1069.7h13.2M1276.3 1069.7h-13.2M221.6 1058.5h13.2M1276.3 1058.5h-13.2M221.6 1049.1h13.2M1276.3 1049.1h-13.2M221.6 1040.9h13.2M1276.3 1040.9h-13.2M221.6 1033.6h13.2M1276.3 1033.6h-13.2M221.6 1027.2h26.4M1276.3 1027.2h-26.4M221.6 984.6h13.2M1276.3 984.6h-13.2M221.6 959.8h13.2M1276.3 959.8h-13.2M221.6 942.1h13.2M1276.3 942.1h-13.2M221.6 928.4h13.2M1276.3 928.4h-13.2M221.6 917.2h13.2M1276.3 917.2h-13.2M221.6 907.8h13.2M1276.3 907.8h-13.2M221.6 899.6h13.2M1276.3 899.6h-13.2M221.6 892.4h13.2M1276.3 892.4h-13.2M221.6 885.9h26.4M1276.3 885.9h-26.4M221.6 843.4h13.2M1276.3 843.4h-13.2M221.6 818.5h13.2M1276.3 818.5h-13.2M221.6 800.9h13.2M1276.3 800.9h-13.2M221.6 787.2h13.2M1276.3 787.2h-13.2M221.6 776h13.2M1276.3 776h-13.2M221.6 766.5h13.2M1276.3 766.5h-13.2M221.6 758.3h13.2M1276.3 758.3h-13.2M221.6 751.1h13.2M1276.3 751.1h-13.2M221.6 744.6h26.4M1276.3 744.6h-26.4M221.6 702.1h13.2M1276.3 702.1h-13.2M221.6 677.3h13.2M1276.3 677.3h-13.2M221.6 659.6h13.2M1276.3 659.6h-13.2M221.6 645.9h13.2M1276.3 645.9h-13.2M221.6 634.7h13.2M1276.3 634.7h-13.2M221.6 625.3h13.2M1276.3 625.3h-13.2M221.6 617.1h13.2M1276.3 617.1h-13.2M221.6 609.9h13.2M1276.3 609.9h-13.2M221.6 603.4h26.4M1276.3 603.4h-26.4M221.6 560.9h13.2M1276.3 560.9h-13.2M221.6 536h13.2M1276.3 536h-13.2M221.6 518.3h13.2M1276.3 518.3h-13.2M221.6 504.7h13.2M1276.3 504.7h-13.2M221.6 493.5h13.2M1276.3 493.5h-13.2M221.6 484h13.2M1276.3 484h-13.2M221.6 475.8h13.2M1276.3 475.8h-13.2M221.6 468.6h13.2M1276.3 468.6h-13.2M221.6 462.1h26.4M1276.3 462.1h-26.4M221.6 419.6h13.2M1276.3 419.6h-13.2M221.6 394.7h13.2M1276.3 394.7h-13.2" stroke="#000" stroke-width="2.4" fill="none"/>
<rect x="221.55" y="89.45" width="1054.8" height="299.6" fill="none" stroke="#000" stroke-width="2.9"/>
<rect x="221.55" y="389.04" width="1054.8" height="1152.8" fill="none" stroke="#000" stroke-width="2.9"/>
<path d="M222.9 194.4H250.4M1255.7 194.4H1275" stroke="#f0a73a" stroke-width="4.4"/>
<text y="51.50" font-family="Liberation Serif, serif" font-size="62.5" style="font-kerning:none;white-space:pre" stroke="#000" stroke-width="0.5"><tspan x="554.52" textLength="40.23" lengthAdjust="spacingAndGlyphs">G</tspan><tspan x="593.36" textLength="38.03" lengthAdjust="spacingAndGlyphs">R</tspan><tspan x="631.78" textLength="39.72" lengthAdjust="spacingAndGlyphs">B</tspan> <tspan x="689.74" textLength="39.41" lengthAdjust="spacingAndGlyphs">2</tspan><tspan x="725.77" textLength="33.99" lengthAdjust="spacingAndGlyphs">4</tspan><tspan x="762.96" textLength="35.98" lengthAdjust="spacingAndGlyphs">0</tspan><tspan x="796.87" textLength="35.86" lengthAdjust="spacingAndGlyphs">8</tspan><tspan x="830.06" textLength="38.04" lengthAdjust="spacingAndGlyphs">2</tspan><tspan x="864.39" textLength="36.24" lengthAdjust="spacingAndGlyphs">5</tspan><tspan x="904.31" textLength="36.46" lengthAdjust="spacingAndGlyphs">A</tspan></text>
<text x="119.57" y="210.60" font-family="Liberation Serif, serif" font-size="49" textLength="73.33" lengthAdjust="spacingAndGlyphs" style="font-kerning:none">0.5</text>
<text x="119.57" y="359.20" font-family="Liberation Serif, serif" font-size="49" textLength="73.26" lengthAdjust="spacingAndGlyphs" style="font-kerning:none">0.0</text>
<text x="87.42" y="1466.45" font-family="Liberation Serif, serif" font-size="49" textLength="55.49" lengthAdjust="spacingAndGlyphs" style="font-kerning:none">10</text>
<text x="145.84" y="1446.95" font-family="Liberation Serif, serif" font-size="35" textLength="24.48" lengthAdjust="spacingAndGlyphs" style="font-kerning:none">−</text>
<text x="171.72" y="1450.25" font-family="Liberation Serif, serif" font-size="35" textLength="19.92" lengthAdjust="spacingAndGlyphs" style="font-kerning:none">9</text>
<text x="87.42" y="1325.19" font-family="Liberation Serif, serif" font-size="49" textLength="55.49" lengthAdjust="spacingAndGlyphs" style="font-kerning:none">10</text>
<text x="145.84" y="1305.69" font-family="Liberation Serif, serif" font-size="35" textLength="24.48" lengthAdjust="spacingAndGlyphs" style="font-kerning:none">−</text>
<text x="171.47" y="1308.99" font-family="Liberation Serif, serif" font-size="35" textLength="20.06" lengthAdjust="spacingAndGlyphs" style="font-kerning:none">8</text>
<text x="87.42" y="1183.93" font-family="Liberation Serif, serif" font-size="49" textLength="55.49" lengthAdjust="spacingAndGlyphs" style="font-kerning:none">10</text>
<text x="145.84" y="1164.43" font-family="Liberation Serif, serif" font-size="35" textLength="24.48" lengthAdjust="spacingAndGlyphs" style="font-kerning:none">−</text>
<text x="170.23" y="1167.73" font-family="Liberation Serif, serif" font-size="35" textLength="20.97" lengthAdjust="spacingAndGlyphs" style="font-kerning:none">7</text>
<text x="87.42" y="1042.67" font-family="Liberation Serif, serif" font-size="49" textLength="55.49" lengthAdjust="spacingAndGlyphs" style="font-kerning:none">10</text>
<text x="145.84" y="1023.17" font-family="Liberation Serif, serif" font-size="35" textLength="24.48" lengthAdjust="spacingAndGlyphs" style="font-kerning:none">−</text>
<text x="171.29" y="1026.47" font-family="Liberation Serif, serif" font-size="35" textLength="19.89" lengthAdjust="spacingAndGlyphs" style="font-kerning:none">6</text>
<text x="87.42" y="901.41" font-family="Liberation Serif, serif" font-size="49" textLength="55.49" lengthAdjust="spacingAndGlyphs" style="font-kerning:none">10</text>
<text x="145.84" y="881.91" font-family="Liberation Serif, serif" font-size="35" textLength="24.48" lengthAdjust="spacingAndGlyphs" style="font-kerning:none">−</text>
<text x="170.55" y="885.21" font-family="Liberation Serif, serif" font-size="35" textLength="21.10" lengthAdjust="spacingAndGlyphs" style="font-kerning:none">5</text>
<text x="87.42" y="760.15" font-family="Liberation Serif, serif" font-size="49" textLength="55.49" lengthAdjust="spacingAndGlyphs" style="font-kerning:none">10</text>
<text x="145.84" y="740.65" font-family="Liberation Serif, serif" font-size="35" textLength="24.48" lengthAdjust="spacingAndGlyphs" style="font-kerning:none">−</text>
<text x="172.29" y="743.95" font-family="Liberation Serif, serif" font-size="35" textLength="18.29" lengthAdjust="spacingAndGlyphs" style="font-kerning:none">4</text>
<text x="87.42" y="618.89" font-family="Liberation Serif, serif" font-size="49" textLength="55.49" lengthAdjust="spacingAndGlyphs" style="font-kerning:none">10</text>
<text x="145.84" y="599.39" font-family="Liberation Serif, serif" font-size="35" textLength="24.48" lengthAdjust="spacingAndGlyphs" style="font-kerning:none">−</text>
<text x="171.03" y="602.69" font-family="Liberation Serif, serif" font-size="35" textLength="20.58" lengthAdjust="spacingAndGlyphs" style="font-kerning:none">3</text>
<text x="87.42" y="477.63" font-family="Liberation Serif, serif" font-size="49" textLength="55.49" lengthAdjust="spacingAndGlyphs" style="font-kerning:none">10</text>
<text x="145.84" y="458.13" font-family="Liberation Serif, serif" font-size="35" textLength="24.48" lengthAdjust="spacingAndGlyphs" style="font-kerning:none">−</text>
<text x="171.14" y="461.43" font-family="Liberation Serif, serif" font-size="35" textLength="21.20" lengthAdjust="spacingAndGlyphs" style="font-kerning:none">2</text>
<text x="243.27" y="1601.00" font-family="Liberation Serif, serif" font-size="49" textLength="52.63" lengthAdjust="spacingAndGlyphs" style="font-kerning:none">10</text>
<text x="298.82" y="1584.30" font-family="Liberation Serif, serif" font-size="35" textLength="22.58" lengthAdjust="spacingAndGlyphs" style="font-kerning:none">2</text>
<text x="453.72" y="1601.00" font-family="Liberation Serif, serif" font-size="49" textLength="52.63" lengthAdjust="spacingAndGlyphs" style="font-kerning:none">10</text>
<text x="509.15" y="1584.30" font-family="Liberation Serif, serif" font-size="35" textLength="21.91" lengthAdjust="spacingAndGlyphs" style="font-kerning:none">3</text>
<text x="664.17" y="1601.00" font-family="Liberation Serif, serif" font-size="49" textLength="52.63" lengthAdjust="spacingAndGlyphs" style="font-kerning:none">10</text>
<text x="720.94" y="1584.30" font-family="Liberation Serif, serif" font-size="35" textLength="19.47" lengthAdjust="spacingAndGlyphs" style="font-kerning:none">4</text>
<text x="874.62" y="1601.00" font-family="Liberation Serif, serif" font-size="49" textLength="52.63" lengthAdjust="spacingAndGlyphs" style="font-kerning:none">10</text>
<text x="929.54" y="1584.30" font-family="Liberation Serif, serif" font-size="35" textLength="22.47" lengthAdjust="spacingAndGlyphs" style="font-kerning:none">5</text>
<text x="1085.07" y="1601.00" font-family="Liberation Serif, serif" font-size="49" textLength="52.63" lengthAdjust="spacingAndGlyphs" style="font-kerning:none">10</text>
<text x="1140.78" y="1584.30" font-family="Liberation Serif, serif" font-size="35" textLength="21.18" lengthAdjust="spacingAndGlyphs" style="font-kerning:none">6</text>
<text y="1667.50" font-family="Liberation Serif, serif" font-size="51" style="font-kerning:none;white-space:pre" stroke="#000" stroke-width="0.8"><tspan x="425.58" textLength="119.49" lengthAdjust="spacingAndGlyphs">Time</tspan> <tspan x="562.15" textLength="127.81" lengthAdjust="spacingAndGlyphs">since</tspan> <tspan x="707.35" textLength="94.04" lengthAdjust="spacingAndGlyphs">BAT</tspan> <tspan x="819.68" textLength="169.48" lengthAdjust="spacingAndGlyphs">trigger</tspan> <tspan x="1005.78" textLength="67.15" lengthAdjust="spacingAndGlyphs">[s]</tspan></text>
<text y="60.00" font-family="Liberation Serif, serif" font-size="51" style="font-kerning:none;white-space:pre" stroke="#000" stroke-width="0.8" transform="rotate(-90)"><tspan x="-1392.37" textLength="106.07" lengthAdjust="spacingAndGlyphs">Flux</tspan> <tspan x="-1268.57" textLength="181.82" lengthAdjust="spacingAndGlyphs">density</tspan> <tspan x="-1069.46" textLength="168.89" lengthAdjust="spacingAndGlyphs">(X−ray</tspan> <tspan x="-883.90" textLength="38.08" lengthAdjust="spacingAndGlyphs">@</tspan> <tspan x="-826.71" textLength="55.83" lengthAdjust="spacingAndGlyphs">10</tspan> <tspan x="-753.81" textLength="106.45" lengthAdjust="spacingAndGlyphs">keV)</tspan> <tspan x="-628.69" textLength="89.99" lengthAdjust="spacingAndGlyphs">[Jy]</tspan></text>
<text x="-274.95" y="92.70" font-family="Liberation Serif, serif" font-style="italic" font-size="49" textLength="26.13" lengthAdjust="spacingAndGlyphs" style="font-kerning:none" transform="rotate(-90)">β</text>
<text x="-245.11" y="100.10" font-family="Liberation Serif, serif" font-size="36.8" textLength="39.59" lengthAdjust="spacingAndGlyphs" style="font-kerning:none" transform="rotate(-90)">ox</text>
<text y="1493.50" font-family="Liberation Serif, serif" font-size="51.5" style="font-kerning:none;white-space:pre" stroke="#000" stroke-width="0.4"><tspan x="831.98" textLength="22.87" lengthAdjust="spacingAndGlyphs">1</tspan><tspan x="861.78" textLength="22.87" lengthAdjust="spacingAndGlyphs">1</tspan> <tspan x="904.51" textLength="30.29" lengthAdjust="spacingAndGlyphs">h</tspan><tspan x="935.81" textLength="24.85" lengthAdjust="spacingAndGlyphs">r</tspan></text>
<rect x="1307.95" y="108.2" width="470.85" height="262.3" rx="8" fill="#fff" stroke="#cbcbcb" stroke-width="3.6"/>
<path d="M1326.6 141.5H1399.9" stroke="#f0a73a" stroke-width="4.4" stroke-dasharray="29.6 14"/>
<path d="M1326.6 188.3H1399.9" stroke="#000" stroke-width="4.6" stroke-dasharray="9.8 18.2"/>
<path d="M1346.9 235.2H1386.6M1366.7 215.9V254.5" stroke="#0000ff" stroke-width="4.3" stroke-opacity="0.8"/>
<path d="M1357.4 235.2H1376M1366.7 225.9V244.5" stroke="#0000ff" stroke-width="4.3" stroke-opacity="0.8"/>
<path d="M1346.9 282.1H1386.6M1366.7 262.8V301.4" stroke="#1d7310" stroke-width="4.3" stroke-opacity="0.8"/>
<path d="M1357.4 282.1H1376M1366.7 272.8V291.4" stroke="#1d7310" stroke-width="4.3" stroke-opacity="0.8"/>
<path d="M1346.9 328.9H1386.6M1366.7 309.6V348.2" stroke="#e21d10" stroke-width="4.3" stroke-opacity="0.8"/>
<path d="M1357.4 328.9H1376M1366.7 319.6V338.2" stroke="#e21d10" stroke-width="4.3" stroke-opacity="0.8"/>
<text x="1439.43" y="152.80" font-family="Liberation Serif, serif" font-style="italic" font-size="35" textLength="19.62" lengthAdjust="spacingAndGlyphs" style="font-kerning:none">β</text>
<text x="1459.45" y="157.50" font-family="Liberation Serif, serif" font-size="25.7" textLength="27.59" lengthAdjust="spacingAndGlyphs" style="font-kerning:none">ox</text>
<text x="1439.43" y="199.65" font-family="Liberation Serif, serif" font-style="italic" font-size="35" textLength="19.62" lengthAdjust="spacingAndGlyphs" style="font-kerning:none">β</text>
<text x="1459.45" y="204.35" font-family="Liberation Serif, serif" font-size="25.7" textLength="27.59" lengthAdjust="spacingAndGlyphs" style="font-kerning:none">ox</text>
<text x="1439.43" y="246.50" font-family="Liberation Serif, serif" font-style="italic" font-size="35" textLength="19.62" lengthAdjust="spacingAndGlyphs" style="font-kerning:none">β</text>
<text x="1459.45" y="251.20" font-family="Liberation Serif, serif" font-size="25.7" textLength="27.59" lengthAdjust="spacingAndGlyphs" style="font-kerning:none">ox</text>
<text x="1439.43" y="293.35" font-family="Liberation Serif, serif" font-style="italic" font-size="35" textLength="19.62" lengthAdjust="spacingAndGlyphs" style="font-kerning:none">β</text>
<text x="1459.45" y="298.05" font-family="Liberation Serif, serif" font-size="25.7" textLength="27.59" lengthAdjust="spacingAndGlyphs" style="font-kerning:none">ox</text>
<text x="1439.43" y="340.20" font-family="Liberation Serif, serif" font-style="italic" font-size="35" textLength="19.62" lengthAdjust="spacingAndGlyphs" style="font-kerning:none">β</text>
<text x="1459.45" y="344.90" font-family="Liberation Serif, serif" font-size="25.7" textLength="27.59" lengthAdjust="spacingAndGlyphs" style="font-kerning:none">ox</text>
<text x="1494.67" y="153.80" font-family="Liberation Serif, serif" font-size="35" textLength="26.42" lengthAdjust="spacingAndGlyphs" style="font-kerning:none">=</text>
<text x="1527.93" y="152.80" font-family="Liberation Serif, serif" font-size="33.5" textLength="51.69" lengthAdjust="spacingAndGlyphs" style="font-kerning:none">0.5</text>
<text x="1494.67" y="200.65" font-family="Liberation Serif, serif" font-size="35" textLength="26.42" lengthAdjust="spacingAndGlyphs" style="font-kerning:none">=</text>
<text x="1530.13" y="199.65" font-family="Liberation Serif, serif" font-style="italic" font-size="35" textLength="19.62" lengthAdjust="spacingAndGlyphs" style="font-kerning:none">β</text>
<text x="1550.98" y="204.35" font-family="Liberation Serif, serif" font-size="25.7" textLength="12.63" lengthAdjust="spacingAndGlyphs" style="font-kerning:none">x</text>
<text x="1570.72" y="200.15" font-family="Liberation Serif, serif" font-size="35" textLength="25.81" lengthAdjust="spacingAndGlyphs" style="font-kerning:none">−</text>
<text x="1604.03" y="199.65" font-family="Liberation Serif, serif" font-size="33.5" textLength="51.58" lengthAdjust="spacingAndGlyphs" style="font-kerning:none">0.5</text>
<text x="1498.98" y="246.50" font-family="Liberation Serif, serif" font-size="34" textLength="257.98" lengthAdjust="spacingAndGlyphs" style="font-kerning:none">in blue portion</text>
<text x="1498.98" y="293.35" font-family="Liberation Serif, serif" font-size="34" textLength="164.40" lengthAdjust="spacingAndGlyphs" style="font-kerning:none">in optical</text>
<text x="1498.97" y="340.20" font-family="Liberation Serif, serif" font-size="34" textLength="241.10" lengthAdjust="spacingAndGlyphs" style="font-kerning:none">in red portion</text>
<rect x="1307.85" y="417.1" width="339.05" height="1096.9" rx="8" fill="#fff" stroke="#cbcbcb" stroke-width="3.6"/>
<path d="M1347 449.4H1386.6M1366.8 430.1V468.7" stroke="#000" stroke-width="4.3" stroke-opacity="0.8"/>
<path d="M1357.5 449.4H1376.1M1366.8 440.1V458.7" stroke="#000" stroke-width="4.3" stroke-opacity="0.8"/>
<text y="464.80" font-family="Liberation Serif, serif" font-size="37" style="font-kerning:none;white-space:pre" stroke="#000" stroke-width="0.6"><tspan x="1436.03" textLength="174.99" lengthAdjust="spacingAndGlyphs">Swift−XRT</tspan></text>
<path d="M1347 495.9H1386.6M1366.8 476.6V515.2" stroke="#7412ee" stroke-width="4.3"/>
<text y="511.35" font-family="Liberation Serif, serif" font-size="37" style="font-kerning:none;white-space:pre" stroke="#000" stroke-width="0.6"><tspan x="1437.82" textLength="94.04" lengthAdjust="spacingAndGlyphs">UVW1</tspan></text>
<path d="M1347 542.5H1386.6M1366.8 523.2V561.8" stroke="#5b30f4" stroke-width="4.3"/>
<text y="557.90" font-family="Liberation Serif, serif" font-size="37" style="font-kerning:none;white-space:pre" stroke="#000" stroke-width="0.6"><tspan x="1437.93" textLength="21.71" lengthAdjust="spacingAndGlyphs">u</tspan></text>
<path d="M1347 589H1386.6M1366.8 569.8V608.3" stroke="#5a34f2" stroke-width="4.3"/>
<text y="604.45" font-family="Liberation Serif, serif" font-size="37" style="font-kerning:none;white-space:pre" stroke="#000" stroke-width="0.6"><tspan x="1437.81" textLength="23.89" lengthAdjust="spacingAndGlyphs">U</tspan></text>
<path d="M1347 635.6H1386.6M1366.8 616.3V654.9" stroke="#5540f2" stroke-width="4.3"/>
<text y="651.00" font-family="Liberation Serif, serif" font-size="37" style="font-kerning:none;white-space:pre" stroke="#000" stroke-width="0.6"><tspan x="1438.50" textLength="17.30" lengthAdjust="spacingAndGlyphs">v</tspan></text>
<path d="M1347 682.1H1386.6M1366.8 662.9V701.4" stroke="#5048f0" stroke-width="4.3"/>
<text y="697.55" font-family="Liberation Serif, serif" font-size="37" style="font-kerning:none;white-space:pre" stroke="#000" stroke-width="0.6"><tspan x="1438.46" textLength="91.84" lengthAdjust="spacingAndGlyphs">White</tspan></text>
<path d="M1347 728.7H1386.6M1366.8 709.4V748" stroke="#4a58f0" stroke-width="4.3"/>
<text y="744.10" font-family="Liberation Serif, serif" font-size="37" style="font-kerning:none;white-space:pre" stroke="#000" stroke-width="0.6"><tspan x="1437.52" textLength="22.75" lengthAdjust="spacingAndGlyphs">B</tspan></text>
<path d="M1347 775.2H1386.6M1366.8 756V794.5" stroke="#4a90e8" stroke-width="4.3"/>
<text y="790.65" font-family="Liberation Serif, serif" font-size="37" style="font-kerning:none;white-space:pre" stroke="#000" stroke-width="0.6"><tspan x="1436.88" textLength="18.84" lengthAdjust="spacingAndGlyphs">g</tspan></text>
<path d="M1347 821.8H1386.6M1366.8 802.5V841.1" stroke="#4a88e8" stroke-width="4.3"/>
<text y="837.20" font-family="Liberation Serif, serif" font-size="37" style="font-kerning:none;white-space:pre" stroke="#000" stroke-width="0.6"><tspan x="1438.10" textLength="88.53" lengthAdjust="spacingAndGlyphs">VT_B</tspan></text>
<path d="M1347 868.3H1386.6M1366.8 849V887.6" stroke="#4a88e8" stroke-width="4.3"/>
<text y="883.75" font-family="Liberation Serif, serif" font-size="37" style="font-kerning:none;white-space:pre" stroke="#000" stroke-width="0.6"><tspan x="1438.13" textLength="23.51" lengthAdjust="spacingAndGlyphs">V</tspan></text>
<path d="M1347 914.9H1386.6M1366.8 895.6V934.2" stroke="#4a8ae8" stroke-width="4.3"/>
<text y="930.30" font-family="Liberation Serif, serif" font-size="37" style="font-kerning:none;white-space:pre" stroke="#000" stroke-width="0.6"><tspan x="1437.29" textLength="189.58" lengthAdjust="spacingAndGlyphs">Luminance</tspan></text>
<path d="M1347 961.4H1386.6M1366.8 942.1V980.7" stroke="#55b8e2" stroke-width="4.3"/>
<text y="976.85" font-family="Liberation Serif, serif" font-size="37" style="font-kerning:none;white-space:pre" stroke="#000" stroke-width="0.6"><tspan x="1437.57" textLength="15.40" lengthAdjust="spacingAndGlyphs">r</tspan></text>
<path d="M1347 1008H1386.6M1366.8 988.7V1027.3" stroke="#55b8e2" stroke-width="4.3"/>
<text y="1023.40" font-family="Liberation Serif, serif" font-size="37" style="font-kerning:none;white-space:pre" stroke="#000" stroke-width="0.6"><tspan x="1437.57" textLength="23.73" lengthAdjust="spacingAndGlyphs">r'</tspan></text>
<path d="M1347 1054.5H1386.6M1366.8 1035.2V1073.8" stroke="#58c0e0" stroke-width="4.3"/>
<text y="1069.95" font-family="Liberation Serif, serif" font-size="37" style="font-kerning:none;white-space:pre" stroke="#000" stroke-width="0.6"><tspan x="1437.16" textLength="23.67" lengthAdjust="spacingAndGlyphs">G</tspan></text>
<path d="M1347 1101.1H1386.6M1366.8 1081.8V1120.4" stroke="#58b8e0" stroke-width="4.3"/>
<text y="1116.50" font-family="Liberation Serif, serif" font-size="37" style="font-kerning:none;white-space:pre" stroke="#000" stroke-width="0.6"><tspan x="1437.42" textLength="41.53" lengthAdjust="spacingAndGlyphs">Rc</tspan></text>
<path d="M1347 1147.7H1386.6M1366.8 1128.4V1167" stroke="#58b8e0" stroke-width="4.3"/>
<text y="1163.05" font-family="Liberation Serif, serif" font-size="37" style="font-kerning:none;white-space:pre" stroke="#000" stroke-width="0.6"><tspan x="1437.56" textLength="21.72" lengthAdjust="spacingAndGlyphs">R</tspan></text>
<path d="M1347 1194.2H1386.6M1366.8 1174.9V1213.5" stroke="#80f0c8" stroke-width="4.3"/>
<text y="1209.60" font-family="Liberation Serif, serif" font-size="37" style="font-kerning:none;white-space:pre" stroke="#000" stroke-width="0.6"><tspan x="1437.68" textLength="10.87" lengthAdjust="spacingAndGlyphs">i</tspan></text>
<path d="M1347 1240.8H1386.6M1366.8 1221.5V1260" stroke="#78e4c8" stroke-width="4.3"/>
<text y="1256.15" font-family="Liberation Serif, serif" font-size="37" style="font-kerning:none;white-space:pre" stroke="#000" stroke-width="0.6"><tspan x="1437.08" textLength="30.53" lengthAdjust="spacingAndGlyphs">Ic</tspan></text>
<path d="M1347 1287.3H1386.6M1366.8 1268V1306.6" stroke="#78e4c8" stroke-width="4.3"/>
<text y="1302.70" font-family="Liberation Serif, serif" font-size="37" style="font-kerning:none;white-space:pre" stroke="#000" stroke-width="0.6"><tspan x="1437.22" textLength="11.83" lengthAdjust="spacingAndGlyphs">I</tspan></text>
<path d="M1347 1333.8H1386.6M1366.8 1314.5V1353.1" stroke="#78e4c8" stroke-width="4.3"/>
<text y="1349.25" font-family="Liberation Serif, serif" font-size="37" style="font-kerning:none;white-space:pre" stroke="#000" stroke-width="0.6"><tspan x="1438.11" textLength="87.75" lengthAdjust="spacingAndGlyphs">VT_R</tspan></text>
<path d="M1347 1380.4H1386.6M1366.8 1361.1V1399.7" stroke="#a0f8c0" stroke-width="4.3"/>
<text y="1395.80" font-family="Liberation Serif, serif" font-size="37" style="font-kerning:none;white-space:pre" stroke="#000" stroke-width="0.6"><tspan x="1437.40" textLength="18.13" lengthAdjust="spacingAndGlyphs">z</tspan></text>
<path d="M1347 1426.9H1386.6M1366.8 1407.6V1446.2" stroke="#e0c878" stroke-width="4.3"/>
<text y="1442.35" font-family="Liberation Serif, serif" font-size="37" style="font-kerning:none;white-space:pre" stroke="#000" stroke-width="0.6"><tspan x="1437.70" textLength="14.91" lengthAdjust="spacingAndGlyphs">J</tspan></text>
<path d="M1347 1473.5H1386.6M1366.8 1454.2V1492.8" stroke="#e8302a" stroke-width="4.3"/>
<text y="1488.90" font-family="Liberation Serif, serif" font-size="37" style="font-kerning:none;white-space:pre" stroke="#000" stroke-width="0.6"><tspan x="1437.52" textLength="24.58" lengthAdjust="spacingAndGlyphs">H</tspan></text>
<defs><filter id="csh" x="-50%" y="-50%" width="200%" height="200%"><feGaussianBlur stdDeviation="1.6"/></filter></defs>
<path d="M1180.2 1101.9 L1180.4 1124.8 L1185.7 1121.4 L1189.2 1130.4 Q1191.1 1131.8 1193.5 1129.6 L1190.1 1120.8 L1196.8 1118.9 Z" fill="#000" stroke="#000" stroke-width="5" stroke-linejoin="round" opacity="0.28" filter="url(#csh)" transform="translate(0.3,1)"/>
<path d="M1180.2 1101.9 L1180.4 1124.8 L1185.7 1121.4 L1189.2 1130.4 Q1191.1 1131.8 1193.5 1129.6 L1190.1 1120.8 L1196.8 1118.9 Z" fill="#fff" stroke="#fff" stroke-width="3.4" stroke-linejoin="round"/>
<path d="M1180.2 1101.9 L1180.4 1124.8 L1185.7 1121.4 L1189.2 1130.4 Q1191.1 1131.8 1193.5 1129.6 L1190.1 1120.8 L1196.8 1118.9 Z" fill="#000" stroke="#000" stroke-width="0.6" stroke-linejoin="round"/>
</svg></body></html>
